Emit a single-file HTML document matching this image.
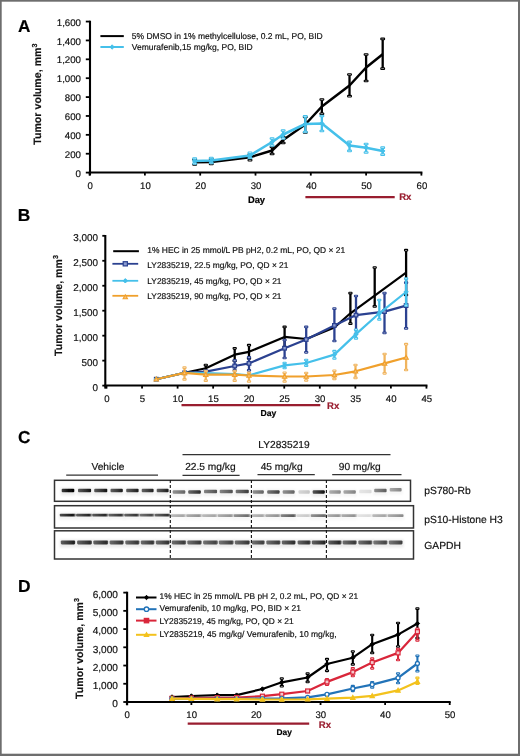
<!DOCTYPE html>
<html><head><meta charset="utf-8"><style>
html,body{margin:0;padding:0;background:#fff;}
svg{display:block;will-change:transform;}
text{font-family:"Liberation Sans", sans-serif;text-rendering:geometricPrecision;stroke:currentColor;stroke-width:0.18px;}
</style></head><body>
<svg width="520" height="756" viewBox="0 0 520 756">
<defs><filter id="blur" x="-20%" y="-100%" width="140%" height="300%"><feGaussianBlur stdDeviation="0.7"/></filter><filter id="blur2" x="-20%" y="-100%" width="140%" height="300%"><feGaussianBlur stdDeviation="1.2"/></filter></defs>
<rect x="0" y="0" width="520" height="756" fill="#fff"/>
<text x="17.90" y="31.90" font-size="17.2" text-anchor="start" font-weight="bold" fill="#000" style="color:#000" >A</text>
<line x1="90.00" y1="20.70" x2="90.00" y2="175.40" stroke="#000" stroke-width="2.1" />
<line x1="88.80" y1="172.60" x2="422.40" y2="172.60" stroke="#000" stroke-width="2" />
<line x1="85.80" y1="172.60" x2="89.80" y2="172.60" stroke="#000" stroke-width="1.8" />
<text x="81.00" y="176.70" font-size="9.7" text-anchor="end" font-weight="normal" fill="#111" style="color:#111" >0</text>
<line x1="85.80" y1="153.72" x2="89.80" y2="153.72" stroke="#000" stroke-width="1.8" />
<text x="81.00" y="157.82" font-size="9.7" text-anchor="end" font-weight="normal" fill="#111" style="color:#111" >200</text>
<line x1="85.80" y1="134.84" x2="89.80" y2="134.84" stroke="#000" stroke-width="1.8" />
<text x="81.00" y="138.94" font-size="9.7" text-anchor="end" font-weight="normal" fill="#111" style="color:#111" >400</text>
<line x1="85.80" y1="115.96" x2="89.80" y2="115.96" stroke="#000" stroke-width="1.8" />
<text x="81.00" y="120.06" font-size="9.7" text-anchor="end" font-weight="normal" fill="#111" style="color:#111" >600</text>
<line x1="85.80" y1="97.08" x2="89.80" y2="97.08" stroke="#000" stroke-width="1.8" />
<text x="81.00" y="101.18" font-size="9.7" text-anchor="end" font-weight="normal" fill="#111" style="color:#111" >800</text>
<line x1="85.80" y1="78.20" x2="89.80" y2="78.20" stroke="#000" stroke-width="1.8" />
<text x="81.00" y="82.30" font-size="9.7" text-anchor="end" font-weight="normal" fill="#111" style="color:#111" >1,000</text>
<line x1="85.80" y1="59.32" x2="89.80" y2="59.32" stroke="#000" stroke-width="1.8" />
<text x="81.00" y="63.42" font-size="9.7" text-anchor="end" font-weight="normal" fill="#111" style="color:#111" >1,200</text>
<line x1="85.80" y1="40.44" x2="89.80" y2="40.44" stroke="#000" stroke-width="1.8" />
<text x="81.00" y="44.54" font-size="9.7" text-anchor="end" font-weight="normal" fill="#111" style="color:#111" >1,400</text>
<line x1="85.80" y1="21.56" x2="89.80" y2="21.56" stroke="#000" stroke-width="1.8" />
<text x="81.00" y="25.66" font-size="9.7" text-anchor="end" font-weight="normal" fill="#111" style="color:#111" >1,600</text>
<line x1="89.60" y1="172.60" x2="89.60" y2="175.60" stroke="#000" stroke-width="1.8" />
<text x="90.10" y="189.20" font-size="9.6" text-anchor="middle" font-weight="normal" fill="#111" style="color:#111" >0</text>
<line x1="144.90" y1="172.60" x2="144.90" y2="175.60" stroke="#000" stroke-width="1.8" />
<text x="145.40" y="189.20" font-size="9.6" text-anchor="middle" font-weight="normal" fill="#111" style="color:#111" >10</text>
<line x1="200.20" y1="172.60" x2="200.20" y2="175.60" stroke="#000" stroke-width="1.8" />
<text x="200.70" y="189.20" font-size="9.6" text-anchor="middle" font-weight="normal" fill="#111" style="color:#111" >20</text>
<line x1="255.50" y1="172.60" x2="255.50" y2="175.60" stroke="#000" stroke-width="1.8" />
<text x="256.00" y="189.20" font-size="9.6" text-anchor="middle" font-weight="normal" fill="#111" style="color:#111" >30</text>
<line x1="310.80" y1="172.60" x2="310.80" y2="175.60" stroke="#000" stroke-width="1.8" />
<text x="311.30" y="189.20" font-size="9.6" text-anchor="middle" font-weight="normal" fill="#111" style="color:#111" >40</text>
<line x1="366.10" y1="172.60" x2="366.10" y2="175.60" stroke="#000" stroke-width="1.8" />
<text x="366.60" y="189.20" font-size="9.6" text-anchor="middle" font-weight="normal" fill="#111" style="color:#111" >50</text>
<line x1="421.40" y1="172.60" x2="421.40" y2="175.60" stroke="#000" stroke-width="1.8" />
<text x="421.90" y="189.20" font-size="9.6" text-anchor="middle" font-weight="normal" fill="#111" style="color:#111" >60</text>
<text x="256.50" y="203.00" font-size="9.4" text-anchor="middle" font-weight="bold" fill="#000" style="color:#000" >Day</text>
<line x1="305.40" y1="197.10" x2="394.70" y2="197.10" stroke="#991d2f" stroke-width="2.2" />
<text x="399.20" y="200.20" font-size="9.6" text-anchor="start" font-weight="bold" fill="#991d2f" style="color:#991d2f" >Rx</text>
<text transform="translate(41.30,144.80) rotate(-90)" font-size="10.65" font-weight="bold" fill="#111" style="color:#111">Tumor volume, mm<tspan font-size="7.24" dy="-4.05">3</tspan></text>
<line x1="100.40" y1="36.10" x2="123.80" y2="36.10" stroke="#000" stroke-width="2" />
<text x="131.80" y="38.60" font-size="8.5" text-anchor="start" font-weight="normal" fill="#111" style="color:#111" >5% DMSO in 1% methylcellulose, 0.2 mL, PO, BID</text>
<line x1="100.40" y1="47.00" x2="123.80" y2="47.00" stroke="#45c0ea" stroke-width="2" />
<path d="M109.90,47.00 L112.10,44.80 L114.30,47.00 L112.10,49.20Z" fill="#45c0ea" stroke="#45c0ea" stroke-width="1"/>
<text x="131.80" y="49.60" font-size="8.5" text-anchor="start" font-weight="normal" fill="#111" style="color:#111" >Vemurafenib,15 mg/kg, PO, BID</text>
<line x1="194.67" y1="159.50" x2="194.67" y2="164.50" stroke="#000" stroke-width="2.3" />
<rect x="192.77" y="158.70" width="3.8" height="1.6" rx="0.5" fill="#fff" stroke="#000" stroke-width="1.1"/>
<rect x="192.77" y="163.70" width="3.8" height="1.6" rx="0.5" fill="#fff" stroke="#000" stroke-width="1.1"/>
<line x1="211.26" y1="159.20" x2="211.26" y2="164.00" stroke="#000" stroke-width="2.3" />
<rect x="209.36" y="158.40" width="3.8" height="1.6" rx="0.5" fill="#fff" stroke="#000" stroke-width="1.1"/>
<rect x="209.36" y="163.20" width="3.8" height="1.6" rx="0.5" fill="#fff" stroke="#000" stroke-width="1.1"/>
<line x1="249.97" y1="154.50" x2="249.97" y2="160.20" stroke="#000" stroke-width="2.3" />
<rect x="248.07" y="153.70" width="3.8" height="1.6" rx="0.5" fill="#fff" stroke="#000" stroke-width="1.1"/>
<rect x="248.07" y="159.40" width="3.8" height="1.6" rx="0.5" fill="#fff" stroke="#000" stroke-width="1.1"/>
<line x1="272.09" y1="147.00" x2="272.09" y2="154.00" stroke="#000" stroke-width="2.3" />
<rect x="270.19" y="146.20" width="3.8" height="1.6" rx="0.5" fill="#fff" stroke="#000" stroke-width="1.1"/>
<rect x="270.19" y="153.20" width="3.8" height="1.6" rx="0.5" fill="#fff" stroke="#000" stroke-width="1.1"/>
<line x1="283.15" y1="137.00" x2="283.15" y2="143.00" stroke="#000" stroke-width="2.3" />
<rect x="281.25" y="136.20" width="3.8" height="1.6" rx="0.5" fill="#fff" stroke="#000" stroke-width="1.1"/>
<rect x="281.25" y="142.20" width="3.8" height="1.6" rx="0.5" fill="#fff" stroke="#000" stroke-width="1.1"/>
<line x1="305.27" y1="117.00" x2="305.27" y2="132.50" stroke="#000" stroke-width="2.3" />
<rect x="303.37" y="116.20" width="3.8" height="1.6" rx="0.5" fill="#fff" stroke="#000" stroke-width="1.1"/>
<rect x="303.37" y="131.70" width="3.8" height="1.6" rx="0.5" fill="#fff" stroke="#000" stroke-width="1.1"/>
<line x1="321.86" y1="99.50" x2="321.86" y2="113.80" stroke="#000" stroke-width="2.3" />
<rect x="319.96" y="98.70" width="3.8" height="1.6" rx="0.5" fill="#fff" stroke="#000" stroke-width="1.1"/>
<rect x="319.96" y="113.00" width="3.8" height="1.6" rx="0.5" fill="#fff" stroke="#000" stroke-width="1.1"/>
<line x1="349.51" y1="74.50" x2="349.51" y2="96.20" stroke="#000" stroke-width="2.3" />
<rect x="347.61" y="73.70" width="3.8" height="1.6" rx="0.5" fill="#fff" stroke="#000" stroke-width="1.1"/>
<rect x="347.61" y="95.40" width="3.8" height="1.6" rx="0.5" fill="#fff" stroke="#000" stroke-width="1.1"/>
<line x1="366.10" y1="54.50" x2="366.10" y2="81.00" stroke="#000" stroke-width="2.3" />
<rect x="364.20" y="53.70" width="3.8" height="1.6" rx="0.5" fill="#fff" stroke="#000" stroke-width="1.1"/>
<rect x="364.20" y="80.20" width="3.8" height="1.6" rx="0.5" fill="#fff" stroke="#000" stroke-width="1.1"/>
<line x1="382.69" y1="38.90" x2="382.69" y2="68.70" stroke="#000" stroke-width="2.3" />
<rect x="380.79" y="38.10" width="3.8" height="1.6" rx="0.5" fill="#fff" stroke="#000" stroke-width="1.1"/>
<rect x="380.79" y="67.90" width="3.8" height="1.6" rx="0.5" fill="#fff" stroke="#000" stroke-width="1.1"/>
<polyline points="194.67,162.30 211.26,161.90 249.97,157.30 272.09,150.50 283.15,140.00 305.27,124.50 321.86,106.50 349.51,85.50 366.10,67.50 382.69,54.20" fill="none" stroke="#000" stroke-width="2.5" stroke-linejoin="round"/>
<line x1="194.67" y1="158.50" x2="194.67" y2="163.50" stroke="#45c0ea" stroke-width="2.3" />
<rect x="192.77" y="157.70" width="3.8" height="1.6" rx="0.5" fill="#fff" stroke="#45c0ea" stroke-width="1.1"/>
<rect x="192.77" y="162.70" width="3.8" height="1.6" rx="0.5" fill="#fff" stroke="#45c0ea" stroke-width="1.1"/>
<line x1="211.26" y1="158.00" x2="211.26" y2="163.00" stroke="#45c0ea" stroke-width="2.3" />
<rect x="209.36" y="157.20" width="3.8" height="1.6" rx="0.5" fill="#fff" stroke="#45c0ea" stroke-width="1.1"/>
<rect x="209.36" y="162.20" width="3.8" height="1.6" rx="0.5" fill="#fff" stroke="#45c0ea" stroke-width="1.1"/>
<line x1="249.97" y1="152.80" x2="249.97" y2="158.00" stroke="#45c0ea" stroke-width="2.3" />
<rect x="248.07" y="152.00" width="3.8" height="1.6" rx="0.5" fill="#fff" stroke="#45c0ea" stroke-width="1.1"/>
<rect x="248.07" y="157.20" width="3.8" height="1.6" rx="0.5" fill="#fff" stroke="#45c0ea" stroke-width="1.1"/>
<line x1="272.09" y1="138.50" x2="272.09" y2="145.50" stroke="#45c0ea" stroke-width="2.3" />
<rect x="270.19" y="137.70" width="3.8" height="1.6" rx="0.5" fill="#fff" stroke="#45c0ea" stroke-width="1.1"/>
<rect x="270.19" y="144.70" width="3.8" height="1.6" rx="0.5" fill="#fff" stroke="#45c0ea" stroke-width="1.1"/>
<line x1="283.15" y1="130.50" x2="283.15" y2="138.50" stroke="#45c0ea" stroke-width="2.3" />
<rect x="281.25" y="129.70" width="3.8" height="1.6" rx="0.5" fill="#fff" stroke="#45c0ea" stroke-width="1.1"/>
<rect x="281.25" y="137.70" width="3.8" height="1.6" rx="0.5" fill="#fff" stroke="#45c0ea" stroke-width="1.1"/>
<line x1="305.27" y1="116.30" x2="305.27" y2="132.00" stroke="#45c0ea" stroke-width="2.3" />
<rect x="303.37" y="115.50" width="3.8" height="1.6" rx="0.5" fill="#fff" stroke="#45c0ea" stroke-width="1.1"/>
<rect x="303.37" y="131.20" width="3.8" height="1.6" rx="0.5" fill="#fff" stroke="#45c0ea" stroke-width="1.1"/>
<line x1="321.86" y1="116.00" x2="321.86" y2="131.00" stroke="#45c0ea" stroke-width="2.3" />
<rect x="319.96" y="115.20" width="3.8" height="1.6" rx="0.5" fill="#fff" stroke="#45c0ea" stroke-width="1.1"/>
<rect x="319.96" y="130.20" width="3.8" height="1.6" rx="0.5" fill="#fff" stroke="#45c0ea" stroke-width="1.1"/>
<line x1="349.51" y1="141.90" x2="349.51" y2="150.90" stroke="#45c0ea" stroke-width="2.3" />
<rect x="347.61" y="141.10" width="3.8" height="1.6" rx="0.5" fill="#fff" stroke="#45c0ea" stroke-width="1.1"/>
<rect x="347.61" y="150.10" width="3.8" height="1.6" rx="0.5" fill="#fff" stroke="#45c0ea" stroke-width="1.1"/>
<line x1="366.10" y1="144.00" x2="366.10" y2="152.50" stroke="#45c0ea" stroke-width="2.3" />
<rect x="364.20" y="143.20" width="3.8" height="1.6" rx="0.5" fill="#fff" stroke="#45c0ea" stroke-width="1.1"/>
<rect x="364.20" y="151.70" width="3.8" height="1.6" rx="0.5" fill="#fff" stroke="#45c0ea" stroke-width="1.1"/>
<line x1="382.69" y1="147.70" x2="382.69" y2="154.60" stroke="#45c0ea" stroke-width="2.3" />
<rect x="380.79" y="146.90" width="3.8" height="1.6" rx="0.5" fill="#fff" stroke="#45c0ea" stroke-width="1.1"/>
<rect x="380.79" y="153.80" width="3.8" height="1.6" rx="0.5" fill="#fff" stroke="#45c0ea" stroke-width="1.1"/>
<polyline points="194.67,161.00 211.26,160.60 249.97,155.50 272.09,142.00 283.15,134.50 305.27,124.00 321.86,123.50 349.51,145.60 366.10,147.70 382.69,150.90" fill="none" stroke="#45c0ea" stroke-width="2.5" stroke-linejoin="round"/>
<path d="M192.47,161.00 L194.67,158.80 L196.87,161.00 L194.67,163.20Z" fill="#45c0ea" stroke="#45c0ea" stroke-width="1"/>
<path d="M209.06,160.60 L211.26,158.40 L213.46,160.60 L211.26,162.80Z" fill="#45c0ea" stroke="#45c0ea" stroke-width="1"/>
<path d="M247.77,155.50 L249.97,153.30 L252.17,155.50 L249.97,157.70Z" fill="#45c0ea" stroke="#45c0ea" stroke-width="1"/>
<path d="M269.89,142.00 L272.09,139.80 L274.29,142.00 L272.09,144.20Z" fill="#45c0ea" stroke="#45c0ea" stroke-width="1"/>
<path d="M280.95,134.50 L283.15,132.30 L285.35,134.50 L283.15,136.70Z" fill="#45c0ea" stroke="#45c0ea" stroke-width="1"/>
<path d="M303.07,124.00 L305.27,121.80 L307.47,124.00 L305.27,126.20Z" fill="#45c0ea" stroke="#45c0ea" stroke-width="1"/>
<path d="M319.66,123.50 L321.86,121.30 L324.06,123.50 L321.86,125.70Z" fill="#45c0ea" stroke="#45c0ea" stroke-width="1"/>
<path d="M347.31,145.60 L349.51,143.40 L351.71,145.60 L349.51,147.80Z" fill="#45c0ea" stroke="#45c0ea" stroke-width="1"/>
<path d="M363.90,147.70 L366.10,145.50 L368.30,147.70 L366.10,149.90Z" fill="#45c0ea" stroke="#45c0ea" stroke-width="1"/>
<path d="M380.49,150.90 L382.69,148.70 L384.89,150.90 L382.69,153.10Z" fill="#45c0ea" stroke="#45c0ea" stroke-width="1"/>
<text x="17.80" y="220.80" font-size="17.4" text-anchor="start" font-weight="bold" fill="#000" style="color:#000" >B</text>
<line x1="105.30" y1="235.00" x2="105.30" y2="388.60" stroke="#000" stroke-width="2.1" />
<line x1="104.30" y1="385.60" x2="427.45" y2="385.60" stroke="#000" stroke-width="2" />
<line x1="102.30" y1="385.60" x2="105.30" y2="385.60" stroke="#000" stroke-width="1.8" />
<text x="98.00" y="390.80" font-size="9.9" text-anchor="end" font-weight="normal" fill="#111" style="color:#111" >0</text>
<line x1="102.30" y1="360.64" x2="105.30" y2="360.64" stroke="#000" stroke-width="1.8" />
<text x="98.00" y="365.84" font-size="9.9" text-anchor="end" font-weight="normal" fill="#111" style="color:#111" >500</text>
<line x1="102.30" y1="335.67" x2="105.30" y2="335.67" stroke="#000" stroke-width="1.8" />
<text x="98.00" y="340.87" font-size="9.9" text-anchor="end" font-weight="normal" fill="#111" style="color:#111" >1,000</text>
<line x1="102.30" y1="310.71" x2="105.30" y2="310.71" stroke="#000" stroke-width="1.8" />
<text x="98.00" y="315.91" font-size="9.9" text-anchor="end" font-weight="normal" fill="#111" style="color:#111" >1,500</text>
<line x1="102.30" y1="285.74" x2="105.30" y2="285.74" stroke="#000" stroke-width="1.8" />
<text x="98.00" y="290.94" font-size="9.9" text-anchor="end" font-weight="normal" fill="#111" style="color:#111" >2,000</text>
<line x1="102.30" y1="260.78" x2="105.30" y2="260.78" stroke="#000" stroke-width="1.8" />
<text x="98.00" y="265.98" font-size="9.9" text-anchor="end" font-weight="normal" fill="#111" style="color:#111" >2,500</text>
<line x1="102.30" y1="235.81" x2="105.30" y2="235.81" stroke="#000" stroke-width="1.8" />
<text x="98.00" y="241.01" font-size="9.9" text-anchor="end" font-weight="normal" fill="#111" style="color:#111" >3,000</text>
<line x1="106.50" y1="385.60" x2="106.50" y2="388.60" stroke="#000" stroke-width="1.8" />
<text x="106.80" y="402.00" font-size="9.6" text-anchor="middle" font-weight="normal" fill="#111" style="color:#111" >0</text>
<line x1="142.05" y1="385.60" x2="142.05" y2="388.60" stroke="#000" stroke-width="1.8" />
<text x="142.35" y="402.00" font-size="9.6" text-anchor="middle" font-weight="normal" fill="#111" style="color:#111" >5</text>
<line x1="177.60" y1="385.60" x2="177.60" y2="388.60" stroke="#000" stroke-width="1.8" />
<text x="177.90" y="402.00" font-size="9.6" text-anchor="middle" font-weight="normal" fill="#111" style="color:#111" >10</text>
<line x1="213.15" y1="385.60" x2="213.15" y2="388.60" stroke="#000" stroke-width="1.8" />
<text x="213.45" y="402.00" font-size="9.6" text-anchor="middle" font-weight="normal" fill="#111" style="color:#111" >15</text>
<line x1="248.70" y1="385.60" x2="248.70" y2="388.60" stroke="#000" stroke-width="1.8" />
<text x="249.00" y="402.00" font-size="9.6" text-anchor="middle" font-weight="normal" fill="#111" style="color:#111" >20</text>
<line x1="284.25" y1="385.60" x2="284.25" y2="388.60" stroke="#000" stroke-width="1.8" />
<text x="284.55" y="402.00" font-size="9.6" text-anchor="middle" font-weight="normal" fill="#111" style="color:#111" >25</text>
<line x1="319.80" y1="385.60" x2="319.80" y2="388.60" stroke="#000" stroke-width="1.8" />
<text x="320.10" y="402.00" font-size="9.6" text-anchor="middle" font-weight="normal" fill="#111" style="color:#111" >30</text>
<line x1="355.35" y1="385.60" x2="355.35" y2="388.60" stroke="#000" stroke-width="1.8" />
<text x="355.65" y="402.00" font-size="9.6" text-anchor="middle" font-weight="normal" fill="#111" style="color:#111" >35</text>
<line x1="390.90" y1="385.60" x2="390.90" y2="388.60" stroke="#000" stroke-width="1.8" />
<text x="391.20" y="402.00" font-size="9.6" text-anchor="middle" font-weight="normal" fill="#111" style="color:#111" >40</text>
<line x1="426.45" y1="385.60" x2="426.45" y2="388.60" stroke="#000" stroke-width="1.8" />
<text x="426.75" y="402.00" font-size="9.6" text-anchor="middle" font-weight="normal" fill="#111" style="color:#111" >45</text>
<text x="268.50" y="415.80" font-size="8.6" text-anchor="middle" font-weight="bold" fill="#000" style="color:#000" >Day</text>
<line x1="181.50" y1="405.10" x2="320.30" y2="405.10" stroke="#991d2f" stroke-width="2.2" />
<text x="327.00" y="409.20" font-size="9.6" text-anchor="start" font-weight="bold" fill="#991d2f" style="color:#991d2f" >Rx</text>
<text transform="translate(62.00,356.00) rotate(-90)" font-size="10.6" font-weight="bold" fill="#111" style="color:#111">Tumor volume, mm<tspan font-size="7.21" dy="-4.03">3</tspan></text>
<line x1="113.20" y1="251.20" x2="138.90" y2="251.20" stroke="#000" stroke-width="2" />
<text x="147.30" y="253.30" font-size="8.45" text-anchor="start" font-weight="normal" fill="#111" style="color:#111" >1% HEC in 25 mmol/L PB pH2, 0.2 mL, PO, QD × 21</text>
<line x1="112.40" y1="263.80" x2="138.20" y2="263.80" stroke="#2b4190" stroke-width="1.8" />
<rect x="123.20" y="261.70" width="4.20" height="4.20" fill="#8d9dd0" stroke="#2b4190" stroke-width="1.2"/>
<text x="147.30" y="268.40" font-size="8.4" text-anchor="start" font-weight="normal" fill="#111" style="color:#111" >LY2835219, 22.5 mg/kg, PO, QD × 21</text>
<line x1="112.40" y1="280.80" x2="138.20" y2="280.80" stroke="#45c0ea" stroke-width="1.8" />
<path d="M123.10,280.80 L125.30,278.60 L127.50,280.80 L125.30,283.00Z" fill="#45c0ea" stroke="#45c0ea" stroke-width="1"/>
<text x="147.30" y="283.70" font-size="8.4" text-anchor="start" font-weight="normal" fill="#111" style="color:#111" >LY2835219, 45 mg/kg, PO, QD × 21</text>
<line x1="112.40" y1="295.80" x2="138.20" y2="295.80" stroke="#f0a02c" stroke-width="1.8" />
<path d="M123.10,298.76 L125.30,294.80 L127.50,298.76Z" fill="#f7c27a" stroke="#f0a02c" stroke-width="1.1"/>
<text x="147.30" y="298.90" font-size="8.4" text-anchor="start" font-weight="normal" fill="#111" style="color:#111" >LY2835219, 90 mg/kg, PO, QD × 21</text>
<line x1="205.80" y1="365.10" x2="205.80" y2="371.50" stroke="#000" stroke-width="2.3" />
<rect x="204.20" y="364.30" width="3.2" height="1.6" rx="0.5" fill="#fff" stroke="#000" stroke-width="1.1"/>
<rect x="204.20" y="370.70" width="3.2" height="1.6" rx="0.5" fill="#fff" stroke="#000" stroke-width="1.1"/>
<line x1="234.70" y1="348.30" x2="234.70" y2="361.00" stroke="#000" stroke-width="2.3" />
<rect x="233.10" y="347.50" width="3.2" height="1.6" rx="0.5" fill="#fff" stroke="#000" stroke-width="1.1"/>
<rect x="233.10" y="360.20" width="3.2" height="1.6" rx="0.5" fill="#fff" stroke="#000" stroke-width="1.1"/>
<line x1="249.00" y1="345.20" x2="249.00" y2="358.40" stroke="#000" stroke-width="2.3" />
<rect x="247.40" y="344.40" width="3.2" height="1.6" rx="0.5" fill="#fff" stroke="#000" stroke-width="1.1"/>
<rect x="247.40" y="357.60" width="3.2" height="1.6" rx="0.5" fill="#fff" stroke="#000" stroke-width="1.1"/>
<line x1="284.60" y1="326.90" x2="284.60" y2="347.00" stroke="#000" stroke-width="2.3" />
<rect x="283.00" y="326.10" width="3.2" height="1.6" rx="0.5" fill="#fff" stroke="#000" stroke-width="1.1"/>
<rect x="283.00" y="346.20" width="3.2" height="1.6" rx="0.5" fill="#fff" stroke="#000" stroke-width="1.1"/>
<line x1="350.40" y1="293.10" x2="350.40" y2="323.70" stroke="#000" stroke-width="2.3" />
<rect x="348.80" y="292.30" width="3.2" height="1.6" rx="0.5" fill="#fff" stroke="#000" stroke-width="1.1"/>
<rect x="348.80" y="322.90" width="3.2" height="1.6" rx="0.5" fill="#fff" stroke="#000" stroke-width="1.1"/>
<line x1="374.70" y1="267.50" x2="374.70" y2="306.40" stroke="#000" stroke-width="2.3" />
<rect x="373.10" y="266.70" width="3.2" height="1.6" rx="0.5" fill="#fff" stroke="#000" stroke-width="1.1"/>
<rect x="373.10" y="305.60" width="3.2" height="1.6" rx="0.5" fill="#fff" stroke="#000" stroke-width="1.1"/>
<line x1="406.10" y1="250.20" x2="406.10" y2="295.00" stroke="#000" stroke-width="2.3" />
<rect x="404.50" y="249.40" width="3.2" height="1.6" rx="0.5" fill="#fff" stroke="#000" stroke-width="1.1"/>
<rect x="404.50" y="294.20" width="3.2" height="1.6" rx="0.5" fill="#fff" stroke="#000" stroke-width="1.1"/>
<polyline points="156.27,379.20 184.71,372.80 205.80,368.20 234.70,354.70 249.00,351.80 284.60,336.90 306.20,339.00 334.40,327.50 350.40,313.30 374.70,295.60 406.10,272.70" fill="none" stroke="#000" stroke-width="2.2" stroke-linejoin="round"/>
<line x1="234.70" y1="360.40" x2="234.70" y2="370.30" stroke="#2b4190" stroke-width="2.3" />
<rect x="233.10" y="359.60" width="3.2" height="1.6" rx="0.5" fill="#fff" stroke="#2b4190" stroke-width="1.1"/>
<rect x="233.10" y="369.50" width="3.2" height="1.6" rx="0.5" fill="#fff" stroke="#2b4190" stroke-width="1.1"/>
<line x1="249.00" y1="357.30" x2="249.00" y2="370.30" stroke="#2b4190" stroke-width="2.3" />
<rect x="247.40" y="356.50" width="3.2" height="1.6" rx="0.5" fill="#fff" stroke="#2b4190" stroke-width="1.1"/>
<rect x="247.40" y="369.50" width="3.2" height="1.6" rx="0.5" fill="#fff" stroke="#2b4190" stroke-width="1.1"/>
<line x1="284.60" y1="340.00" x2="284.60" y2="358.00" stroke="#2b4190" stroke-width="2.3" />
<rect x="283.00" y="339.20" width="3.2" height="1.6" rx="0.5" fill="#fff" stroke="#2b4190" stroke-width="1.1"/>
<rect x="283.00" y="357.20" width="3.2" height="1.6" rx="0.5" fill="#fff" stroke="#2b4190" stroke-width="1.1"/>
<line x1="306.20" y1="326.90" x2="306.20" y2="352.30" stroke="#2b4190" stroke-width="2.3" />
<rect x="304.60" y="326.10" width="3.2" height="1.6" rx="0.5" fill="#fff" stroke="#2b4190" stroke-width="1.1"/>
<rect x="304.60" y="351.50" width="3.2" height="1.6" rx="0.5" fill="#fff" stroke="#2b4190" stroke-width="1.1"/>
<line x1="334.40" y1="308.70" x2="334.40" y2="341.00" stroke="#2b4190" stroke-width="2.3" />
<rect x="332.80" y="307.90" width="3.2" height="1.6" rx="0.5" fill="#fff" stroke="#2b4190" stroke-width="1.1"/>
<rect x="332.80" y="340.20" width="3.2" height="1.6" rx="0.5" fill="#fff" stroke="#2b4190" stroke-width="1.1"/>
<line x1="356.00" y1="296.00" x2="356.00" y2="334.00" stroke="#2b4190" stroke-width="2.3" />
<rect x="354.40" y="295.20" width="3.2" height="1.6" rx="0.5" fill="#fff" stroke="#2b4190" stroke-width="1.1"/>
<rect x="354.40" y="333.20" width="3.2" height="1.6" rx="0.5" fill="#fff" stroke="#2b4190" stroke-width="1.1"/>
<line x1="384.50" y1="293.10" x2="384.50" y2="332.90" stroke="#2b4190" stroke-width="2.3" />
<rect x="382.90" y="292.30" width="3.2" height="1.6" rx="0.5" fill="#fff" stroke="#2b4190" stroke-width="1.1"/>
<rect x="382.90" y="332.10" width="3.2" height="1.6" rx="0.5" fill="#fff" stroke="#2b4190" stroke-width="1.1"/>
<line x1="406.10" y1="282.70" x2="406.10" y2="328.40" stroke="#2b4190" stroke-width="2.3" />
<rect x="404.50" y="281.90" width="3.2" height="1.6" rx="0.5" fill="#fff" stroke="#2b4190" stroke-width="1.1"/>
<rect x="404.50" y="327.60" width="3.2" height="1.6" rx="0.5" fill="#fff" stroke="#2b4190" stroke-width="1.1"/>
<polyline points="156.27,379.20 184.71,372.80 205.80,371.70 234.70,366.00 249.00,363.40 284.60,348.20 306.20,339.50 334.40,325.40 356.00,315.10 384.50,311.60 406.10,305.60" fill="none" stroke="#2b4190" stroke-width="2.2" stroke-linejoin="round"/>
<rect x="154.47" y="377.40" width="3.60" height="3.60" fill="#8d9dd0" stroke="#2b4190" stroke-width="1.2"/>
<rect x="182.91" y="371.00" width="3.60" height="3.60" fill="#8d9dd0" stroke="#2b4190" stroke-width="1.2"/>
<rect x="204.00" y="369.90" width="3.60" height="3.60" fill="#8d9dd0" stroke="#2b4190" stroke-width="1.2"/>
<rect x="232.90" y="364.20" width="3.60" height="3.60" fill="#8d9dd0" stroke="#2b4190" stroke-width="1.2"/>
<rect x="247.20" y="361.60" width="3.60" height="3.60" fill="#8d9dd0" stroke="#2b4190" stroke-width="1.2"/>
<rect x="282.80" y="346.40" width="3.60" height="3.60" fill="#8d9dd0" stroke="#2b4190" stroke-width="1.2"/>
<rect x="304.40" y="337.70" width="3.60" height="3.60" fill="#8d9dd0" stroke="#2b4190" stroke-width="1.2"/>
<rect x="332.60" y="323.60" width="3.60" height="3.60" fill="#8d9dd0" stroke="#2b4190" stroke-width="1.2"/>
<rect x="354.20" y="313.30" width="3.60" height="3.60" fill="#8d9dd0" stroke="#2b4190" stroke-width="1.2"/>
<rect x="382.70" y="309.80" width="3.60" height="3.60" fill="#8d9dd0" stroke="#2b4190" stroke-width="1.2"/>
<rect x="404.30" y="303.80" width="3.60" height="3.60" fill="#8d9dd0" stroke="#2b4190" stroke-width="1.2"/>
<line x1="284.60" y1="363.00" x2="284.60" y2="368.00" stroke="#45c0ea" stroke-width="2.3" />
<rect x="283.00" y="362.20" width="3.2" height="1.6" rx="0.5" fill="#fff" stroke="#45c0ea" stroke-width="1.1"/>
<rect x="283.00" y="367.20" width="3.2" height="1.6" rx="0.5" fill="#fff" stroke="#45c0ea" stroke-width="1.1"/>
<line x1="306.20" y1="360.00" x2="306.20" y2="365.70" stroke="#45c0ea" stroke-width="2.3" />
<rect x="304.60" y="359.20" width="3.2" height="1.6" rx="0.5" fill="#fff" stroke="#45c0ea" stroke-width="1.1"/>
<rect x="304.60" y="364.90" width="3.2" height="1.6" rx="0.5" fill="#fff" stroke="#45c0ea" stroke-width="1.1"/>
<line x1="334.40" y1="351.20" x2="334.40" y2="358.50" stroke="#45c0ea" stroke-width="2.3" />
<rect x="332.80" y="350.40" width="3.2" height="1.6" rx="0.5" fill="#fff" stroke="#45c0ea" stroke-width="1.1"/>
<rect x="332.80" y="357.70" width="3.2" height="1.6" rx="0.5" fill="#fff" stroke="#45c0ea" stroke-width="1.1"/>
<line x1="356.00" y1="329.80" x2="356.00" y2="338.40" stroke="#45c0ea" stroke-width="2.3" />
<rect x="354.40" y="329.00" width="3.2" height="1.6" rx="0.5" fill="#fff" stroke="#45c0ea" stroke-width="1.1"/>
<rect x="354.40" y="337.60" width="3.2" height="1.6" rx="0.5" fill="#fff" stroke="#45c0ea" stroke-width="1.1"/>
<line x1="379.30" y1="300.00" x2="379.30" y2="319.40" stroke="#45c0ea" stroke-width="2.3" />
<rect x="377.70" y="299.20" width="3.2" height="1.6" rx="0.5" fill="#fff" stroke="#45c0ea" stroke-width="1.1"/>
<rect x="377.70" y="318.60" width="3.2" height="1.6" rx="0.5" fill="#fff" stroke="#45c0ea" stroke-width="1.1"/>
<line x1="406.10" y1="278.70" x2="406.10" y2="305.50" stroke="#45c0ea" stroke-width="2.3" />
<rect x="404.50" y="277.90" width="3.2" height="1.6" rx="0.5" fill="#fff" stroke="#45c0ea" stroke-width="1.1"/>
<rect x="404.50" y="304.70" width="3.2" height="1.6" rx="0.5" fill="#fff" stroke="#45c0ea" stroke-width="1.1"/>
<polyline points="156.27,379.20 184.71,372.80 205.80,373.00 234.70,374.00 249.00,375.30 284.60,365.40 306.20,363.00 334.40,354.60 356.00,334.10 379.30,313.30 406.10,292.00" fill="none" stroke="#45c0ea" stroke-width="2.2" stroke-linejoin="round"/>
<path d="M154.07,379.20 L156.27,377.00 L158.47,379.20 L156.27,381.40Z" fill="#45c0ea" stroke="#45c0ea" stroke-width="1"/>
<path d="M182.51,372.80 L184.71,370.60 L186.91,372.80 L184.71,375.00Z" fill="#45c0ea" stroke="#45c0ea" stroke-width="1"/>
<path d="M203.60,373.00 L205.80,370.80 L208.00,373.00 L205.80,375.20Z" fill="#45c0ea" stroke="#45c0ea" stroke-width="1"/>
<path d="M232.50,374.00 L234.70,371.80 L236.90,374.00 L234.70,376.20Z" fill="#45c0ea" stroke="#45c0ea" stroke-width="1"/>
<path d="M246.80,375.30 L249.00,373.10 L251.20,375.30 L249.00,377.50Z" fill="#45c0ea" stroke="#45c0ea" stroke-width="1"/>
<path d="M282.40,365.40 L284.60,363.20 L286.80,365.40 L284.60,367.60Z" fill="#45c0ea" stroke="#45c0ea" stroke-width="1"/>
<path d="M304.00,363.00 L306.20,360.80 L308.40,363.00 L306.20,365.20Z" fill="#45c0ea" stroke="#45c0ea" stroke-width="1"/>
<path d="M332.20,354.60 L334.40,352.40 L336.60,354.60 L334.40,356.80Z" fill="#45c0ea" stroke="#45c0ea" stroke-width="1"/>
<path d="M353.80,334.10 L356.00,331.90 L358.20,334.10 L356.00,336.30Z" fill="#45c0ea" stroke="#45c0ea" stroke-width="1"/>
<path d="M377.10,313.30 L379.30,311.10 L381.50,313.30 L379.30,315.50Z" fill="#45c0ea" stroke="#45c0ea" stroke-width="1"/>
<path d="M403.90,292.00 L406.10,289.80 L408.30,292.00 L406.10,294.20Z" fill="#45c0ea" stroke="#45c0ea" stroke-width="1"/>
<line x1="184.50" y1="367.70" x2="184.50" y2="379.40" stroke="#f0b45e" stroke-width="2.3" />
<rect x="182.90" y="366.90" width="3.2" height="1.6" rx="0.5" fill="#fff" stroke="#f0b45e" stroke-width="1.1"/>
<rect x="182.90" y="378.60" width="3.2" height="1.6" rx="0.5" fill="#fff" stroke="#f0b45e" stroke-width="1.1"/>
<line x1="205.80" y1="371.10" x2="205.80" y2="380.70" stroke="#f0b45e" stroke-width="2.3" />
<rect x="204.20" y="370.30" width="3.2" height="1.6" rx="0.5" fill="#fff" stroke="#f0b45e" stroke-width="1.1"/>
<rect x="204.20" y="379.90" width="3.2" height="1.6" rx="0.5" fill="#fff" stroke="#f0b45e" stroke-width="1.1"/>
<line x1="234.70" y1="371.10" x2="234.70" y2="380.70" stroke="#f0b45e" stroke-width="2.3" />
<rect x="233.10" y="370.30" width="3.2" height="1.6" rx="0.5" fill="#fff" stroke="#f0b45e" stroke-width="1.1"/>
<rect x="233.10" y="379.90" width="3.2" height="1.6" rx="0.5" fill="#fff" stroke="#f0b45e" stroke-width="1.1"/>
<line x1="249.00" y1="372.90" x2="249.00" y2="381.50" stroke="#f0b45e" stroke-width="2.3" />
<rect x="247.40" y="372.10" width="3.2" height="1.6" rx="0.5" fill="#fff" stroke="#f0b45e" stroke-width="1.1"/>
<rect x="247.40" y="380.70" width="3.2" height="1.6" rx="0.5" fill="#fff" stroke="#f0b45e" stroke-width="1.1"/>
<line x1="284.60" y1="372.80" x2="284.60" y2="381.50" stroke="#f0b45e" stroke-width="2.3" />
<rect x="283.00" y="372.00" width="3.2" height="1.6" rx="0.5" fill="#fff" stroke="#f0b45e" stroke-width="1.1"/>
<rect x="283.00" y="380.70" width="3.2" height="1.6" rx="0.5" fill="#fff" stroke="#f0b45e" stroke-width="1.1"/>
<line x1="306.20" y1="373.00" x2="306.20" y2="380.50" stroke="#f0b45e" stroke-width="2.3" />
<rect x="304.60" y="372.20" width="3.2" height="1.6" rx="0.5" fill="#fff" stroke="#f0b45e" stroke-width="1.1"/>
<rect x="304.60" y="379.70" width="3.2" height="1.6" rx="0.5" fill="#fff" stroke="#f0b45e" stroke-width="1.1"/>
<line x1="334.40" y1="370.80" x2="334.40" y2="378.90" stroke="#f0b45e" stroke-width="2.3" />
<rect x="332.80" y="370.00" width="3.2" height="1.6" rx="0.5" fill="#fff" stroke="#f0b45e" stroke-width="1.1"/>
<rect x="332.80" y="378.10" width="3.2" height="1.6" rx="0.5" fill="#fff" stroke="#f0b45e" stroke-width="1.1"/>
<line x1="355.50" y1="365.00" x2="355.50" y2="377.90" stroke="#f0b45e" stroke-width="2.3" />
<rect x="353.90" y="364.20" width="3.2" height="1.6" rx="0.5" fill="#fff" stroke="#f0b45e" stroke-width="1.1"/>
<rect x="353.90" y="377.10" width="3.2" height="1.6" rx="0.5" fill="#fff" stroke="#f0b45e" stroke-width="1.1"/>
<line x1="384.60" y1="354.00" x2="384.60" y2="373.30" stroke="#f0b45e" stroke-width="2.3" />
<rect x="383.00" y="353.20" width="3.2" height="1.6" rx="0.5" fill="#fff" stroke="#f0b45e" stroke-width="1.1"/>
<rect x="383.00" y="372.50" width="3.2" height="1.6" rx="0.5" fill="#fff" stroke="#f0b45e" stroke-width="1.1"/>
<line x1="406.10" y1="344.20" x2="406.10" y2="370.00" stroke="#f0b45e" stroke-width="2.3" />
<rect x="404.50" y="343.40" width="3.2" height="1.6" rx="0.5" fill="#fff" stroke="#f0b45e" stroke-width="1.1"/>
<rect x="404.50" y="369.20" width="3.2" height="1.6" rx="0.5" fill="#fff" stroke="#f0b45e" stroke-width="1.1"/>
<polyline points="156.27,379.20 184.50,372.90 205.80,374.60 234.70,374.60 249.00,375.50 284.60,376.50 306.20,376.50 334.40,375.00 355.50,371.30 384.60,363.40 406.10,357.50" fill="none" stroke="#f0a02c" stroke-width="2.2" stroke-linejoin="round"/>
<path d="M154.07,380.96 L156.27,377.00 L158.47,380.96Z" fill="#f7c27a" stroke="#f0a02c" stroke-width="1.1"/>
<path d="M182.30,374.66 L184.50,370.70 L186.70,374.66Z" fill="#f7c27a" stroke="#f0a02c" stroke-width="1.1"/>
<path d="M203.60,376.36 L205.80,372.40 L208.00,376.36Z" fill="#f7c27a" stroke="#f0a02c" stroke-width="1.1"/>
<path d="M232.50,376.36 L234.70,372.40 L236.90,376.36Z" fill="#f7c27a" stroke="#f0a02c" stroke-width="1.1"/>
<path d="M246.80,377.26 L249.00,373.30 L251.20,377.26Z" fill="#f7c27a" stroke="#f0a02c" stroke-width="1.1"/>
<path d="M282.40,378.26 L284.60,374.30 L286.80,378.26Z" fill="#f7c27a" stroke="#f0a02c" stroke-width="1.1"/>
<path d="M304.00,378.26 L306.20,374.30 L308.40,378.26Z" fill="#f7c27a" stroke="#f0a02c" stroke-width="1.1"/>
<path d="M332.20,376.76 L334.40,372.80 L336.60,376.76Z" fill="#f7c27a" stroke="#f0a02c" stroke-width="1.1"/>
<path d="M353.30,373.06 L355.50,369.10 L357.70,373.06Z" fill="#f7c27a" stroke="#f0a02c" stroke-width="1.1"/>
<path d="M382.40,365.16 L384.60,361.20 L386.80,365.16Z" fill="#f7c27a" stroke="#f0a02c" stroke-width="1.1"/>
<path d="M403.90,359.26 L406.10,355.30 L408.30,359.26Z" fill="#f7c27a" stroke="#f0a02c" stroke-width="1.1"/>
<text x="18.00" y="442.90" font-size="17.3" text-anchor="start" font-weight="bold" fill="#000" style="color:#000" >C</text>
<text x="284.00" y="447.80" font-size="10.2" text-anchor="middle" font-weight="normal" fill="#111" style="color:#111" >LY2835219</text>
<line x1="182.50" y1="454.70" x2="390.50" y2="454.70" stroke="#333" stroke-width="1.3" />
<text x="107.90" y="470.10" font-size="10.2" text-anchor="middle" font-weight="normal" fill="#111" style="color:#111" >Vehicle</text>
<line x1="66.20" y1="475.20" x2="158.00" y2="475.20" stroke="#333" stroke-width="1.3" />
<text x="210.40" y="470.40" font-size="10.2" text-anchor="middle" font-weight="normal" fill="#111" style="color:#111" >22.5 mg/kg</text>
<line x1="182.50" y1="475.30" x2="239.60" y2="475.30" stroke="#333" stroke-width="1.3" />
<text x="281.60" y="470.40" font-size="10.2" text-anchor="middle" font-weight="normal" fill="#111" style="color:#111" >45 mg/kg</text>
<line x1="257.50" y1="474.60" x2="314.80" y2="474.60" stroke="#333" stroke-width="1.3" />
<text x="359.80" y="470.20" font-size="10.2" text-anchor="middle" font-weight="normal" fill="#111" style="color:#111" >90 mg/kg</text>
<line x1="332.20" y1="474.60" x2="401.50" y2="474.60" stroke="#333" stroke-width="1.3" />
<rect x="54.5" y="480.3" width="356" height="21" fill="#fff" stroke="#333" stroke-width="1.5"/>
<rect x="54.5" y="505.7" width="359" height="22.3" fill="#fff" stroke="#333" stroke-width="1.5"/>
<rect x="54.5" y="530.8" width="359" height="28.2" fill="#fff" stroke="#333" stroke-width="1.5"/>
<linearGradient id="g312" x1="0" x2="1" y1="0" y2="0"><stop offset="0" stop-color="rgb(61,61,61)"/><stop offset="0.6" stop-color="rgb(12,12,12)"/><stop offset="1" stop-color="rgb(0,0,0)"/></linearGradient>
<rect x="60.70" y="487.85" width="14.60" height="7.5" fill="rgb(235,235,235)" filter="url(#blur2)"/>
<rect x="61.70" y="488.85" width="12.60" height="3.5" rx="1.00" fill="url(#g312)" filter="url(#blur)"/>
<linearGradient id="g315" x1="0" x2="1" y1="0" y2="0"><stop offset="0" stop-color="rgb(77,77,77)"/><stop offset="0.6" stop-color="rgb(33,33,33)"/><stop offset="1" stop-color="rgb(0,0,0)"/></linearGradient>
<rect x="58.80" y="512.70" width="18.40" height="6.8" fill="rgb(241,241,241)" filter="url(#blur2)"/>
<rect x="59.80" y="513.70" width="16.40" height="2.8" rx="0.80" fill="url(#g315)" filter="url(#blur)"/>
<linearGradient id="g318" x1="0" x2="1" y1="0" y2="0"><stop offset="0" stop-color="rgb(95,95,95)"/><stop offset="0.6" stop-color="rgb(56,56,56)"/><stop offset="1" stop-color="rgb(26,26,26)"/></linearGradient>
<rect x="59.80" y="539.40" width="16.40" height="8.0" fill="rgb(234,234,234)" filter="url(#blur2)"/>
<rect x="60.80" y="540.40" width="14.40" height="4.0" rx="1.14" fill="url(#g318)" filter="url(#blur)"/>
<linearGradient id="g321" x1="0" x2="1" y1="0" y2="0"><stop offset="0" stop-color="rgb(91,91,91)"/><stop offset="0.6" stop-color="rgb(50,50,50)"/><stop offset="1" stop-color="rgb(20,20,20)"/></linearGradient>
<rect x="77.00" y="487.85" width="15.10" height="7.5" fill="rgb(238,238,238)" filter="url(#blur2)"/>
<rect x="78.00" y="488.85" width="13.10" height="3.5" rx="1.00" fill="url(#g321)" filter="url(#blur)"/>
<linearGradient id="g324" x1="0" x2="1" y1="0" y2="0"><stop offset="0" stop-color="rgb(91,91,91)"/><stop offset="0.6" stop-color="rgb(50,50,50)"/><stop offset="1" stop-color="rgb(20,20,20)"/></linearGradient>
<rect x="75.10" y="512.70" width="18.90" height="6.8" fill="rgb(242,242,242)" filter="url(#blur2)"/>
<rect x="76.10" y="513.70" width="16.90" height="2.8" rx="0.80" fill="url(#g324)" filter="url(#blur)"/>
<linearGradient id="g327" x1="0" x2="1" y1="0" y2="0"><stop offset="0" stop-color="rgb(101,101,101)"/><stop offset="0.6" stop-color="rgb(63,63,63)"/><stop offset="1" stop-color="rgb(35,35,35)"/></linearGradient>
<rect x="76.10" y="539.40" width="16.90" height="8.0" fill="rgb(234,234,234)" filter="url(#blur2)"/>
<rect x="77.10" y="540.40" width="14.90" height="4.0" rx="1.14" fill="url(#g327)" filter="url(#blur)"/>
<linearGradient id="g330" x1="0" x2="1" y1="0" y2="0"><stop offset="0" stop-color="rgb(91,91,91)"/><stop offset="0.6" stop-color="rgb(50,50,50)"/><stop offset="1" stop-color="rgb(20,20,20)"/></linearGradient>
<rect x="93.20" y="487.85" width="15.10" height="7.5" fill="rgb(238,238,238)" filter="url(#blur2)"/>
<rect x="94.20" y="488.85" width="13.10" height="3.5" rx="1.00" fill="url(#g330)" filter="url(#blur)"/>
<linearGradient id="g333" x1="0" x2="1" y1="0" y2="0"><stop offset="0" stop-color="rgb(91,91,91)"/><stop offset="0.6" stop-color="rgb(50,50,50)"/><stop offset="1" stop-color="rgb(20,20,20)"/></linearGradient>
<rect x="91.30" y="512.70" width="18.90" height="6.8" fill="rgb(242,242,242)" filter="url(#blur2)"/>
<rect x="92.30" y="513.70" width="16.90" height="2.8" rx="0.80" fill="url(#g333)" filter="url(#blur)"/>
<linearGradient id="g336" x1="0" x2="1" y1="0" y2="0"><stop offset="0" stop-color="rgb(101,101,101)"/><stop offset="0.6" stop-color="rgb(63,63,63)"/><stop offset="1" stop-color="rgb(35,35,35)"/></linearGradient>
<rect x="92.30" y="539.40" width="16.90" height="8.0" fill="rgb(234,234,234)" filter="url(#blur2)"/>
<rect x="93.30" y="540.40" width="14.90" height="4.0" rx="1.14" fill="url(#g336)" filter="url(#blur)"/>
<linearGradient id="g339" x1="0" x2="1" y1="0" y2="0"><stop offset="0" stop-color="rgb(95,95,95)"/><stop offset="0.6" stop-color="rgb(56,56,56)"/><stop offset="1" stop-color="rgb(26,26,26)"/></linearGradient>
<rect x="109.50" y="487.85" width="14.30" height="7.5" fill="rgb(239,239,239)" filter="url(#blur2)"/>
<rect x="110.50" y="488.85" width="12.30" height="3.5" rx="1.00" fill="url(#g339)" filter="url(#blur)"/>
<linearGradient id="g342" x1="0" x2="1" y1="0" y2="0"><stop offset="0" stop-color="rgb(101,101,101)"/><stop offset="0.6" stop-color="rgb(63,63,63)"/><stop offset="1" stop-color="rgb(35,35,35)"/></linearGradient>
<rect x="107.60" y="512.70" width="18.10" height="6.8" fill="rgb(243,243,243)" filter="url(#blur2)"/>
<rect x="108.60" y="513.70" width="16.10" height="2.8" rx="0.80" fill="url(#g342)" filter="url(#blur)"/>
<linearGradient id="g345" x1="0" x2="1" y1="0" y2="0"><stop offset="0" stop-color="rgb(108,108,108)"/><stop offset="0.6" stop-color="rgb(71,71,71)"/><stop offset="1" stop-color="rgb(43,43,43)"/></linearGradient>
<rect x="108.60" y="539.40" width="16.10" height="8.0" fill="rgb(234,234,234)" filter="url(#blur2)"/>
<rect x="109.60" y="540.40" width="14.10" height="4.0" rx="1.14" fill="url(#g345)" filter="url(#blur)"/>
<linearGradient id="g348" x1="0" x2="1" y1="0" y2="0"><stop offset="0" stop-color="rgb(95,95,95)"/><stop offset="0.6" stop-color="rgb(56,56,56)"/><stop offset="1" stop-color="rgb(26,26,26)"/></linearGradient>
<rect x="125.20" y="487.85" width="14.40" height="7.5" fill="rgb(239,239,239)" filter="url(#blur2)"/>
<rect x="126.20" y="488.85" width="12.40" height="3.5" rx="1.00" fill="url(#g348)" filter="url(#blur)"/>
<linearGradient id="g351" x1="0" x2="1" y1="0" y2="0"><stop offset="0" stop-color="rgb(101,101,101)"/><stop offset="0.6" stop-color="rgb(63,63,63)"/><stop offset="1" stop-color="rgb(35,35,35)"/></linearGradient>
<rect x="123.30" y="512.70" width="18.20" height="6.8" fill="rgb(243,243,243)" filter="url(#blur2)"/>
<rect x="124.30" y="513.70" width="16.20" height="2.8" rx="0.80" fill="url(#g351)" filter="url(#blur)"/>
<linearGradient id="g354" x1="0" x2="1" y1="0" y2="0"><stop offset="0" stop-color="rgb(108,108,108)"/><stop offset="0.6" stop-color="rgb(71,71,71)"/><stop offset="1" stop-color="rgb(43,43,43)"/></linearGradient>
<rect x="124.30" y="539.40" width="16.20" height="8.0" fill="rgb(234,234,234)" filter="url(#blur2)"/>
<rect x="125.30" y="540.40" width="14.20" height="4.0" rx="1.14" fill="url(#g354)" filter="url(#blur)"/>
<linearGradient id="g357" x1="0" x2="1" y1="0" y2="0"><stop offset="0" stop-color="rgb(99,99,99)"/><stop offset="0.6" stop-color="rgb(61,61,61)"/><stop offset="1" stop-color="rgb(32,32,32)"/></linearGradient>
<rect x="140.70" y="487.85" width="13.90" height="7.5" fill="rgb(239,239,239)" filter="url(#blur2)"/>
<rect x="141.70" y="488.85" width="11.90" height="3.5" rx="1.00" fill="url(#g357)" filter="url(#blur)"/>
<linearGradient id="g360" x1="0" x2="1" y1="0" y2="0"><stop offset="0" stop-color="rgb(116,116,116)"/><stop offset="0.6" stop-color="rgb(81,81,81)"/><stop offset="1" stop-color="rgb(55,55,55)"/></linearGradient>
<rect x="138.80" y="512.70" width="17.70" height="6.8" fill="rgb(244,244,244)" filter="url(#blur2)"/>
<rect x="139.80" y="513.70" width="15.70" height="2.8" rx="0.80" fill="url(#g360)" filter="url(#blur)"/>
<linearGradient id="g363" x1="0" x2="1" y1="0" y2="0"><stop offset="0" stop-color="rgb(108,108,108)"/><stop offset="0.6" stop-color="rgb(71,71,71)"/><stop offset="1" stop-color="rgb(43,43,43)"/></linearGradient>
<rect x="139.80" y="539.40" width="15.70" height="8.0" fill="rgb(234,234,234)" filter="url(#blur2)"/>
<rect x="140.80" y="540.40" width="13.70" height="4.0" rx="1.14" fill="url(#g363)" filter="url(#blur)"/>
<linearGradient id="g366" x1="0" x2="1" y1="0" y2="0"><stop offset="0" stop-color="rgb(95,95,95)"/><stop offset="0.6" stop-color="rgb(56,56,56)"/><stop offset="1" stop-color="rgb(26,26,26)"/></linearGradient>
<rect x="155.70" y="487.85" width="13.90" height="7.5" fill="rgb(239,239,239)" filter="url(#blur2)"/>
<rect x="156.70" y="488.85" width="11.90" height="3.5" rx="1.00" fill="url(#g366)" filter="url(#blur)"/>
<linearGradient id="g369" x1="0" x2="1" y1="0" y2="0"><stop offset="0" stop-color="rgb(104,104,104)"/><stop offset="0.6" stop-color="rgb(66,66,66)"/><stop offset="1" stop-color="rgb(37,37,37)"/></linearGradient>
<rect x="153.80" y="512.70" width="17.70" height="6.8" fill="rgb(243,243,243)" filter="url(#blur2)"/>
<rect x="154.80" y="513.70" width="15.70" height="2.8" rx="0.80" fill="url(#g369)" filter="url(#blur)"/>
<linearGradient id="g372" x1="0" x2="1" y1="0" y2="0"><stop offset="0" stop-color="rgb(108,108,108)"/><stop offset="0.6" stop-color="rgb(71,71,71)"/><stop offset="1" stop-color="rgb(43,43,43)"/></linearGradient>
<rect x="154.80" y="539.40" width="15.70" height="8.0" fill="rgb(234,234,234)" filter="url(#blur2)"/>
<rect x="155.80" y="540.40" width="13.70" height="4.0" rx="1.14" fill="url(#g372)" filter="url(#blur)"/>
<linearGradient id="g375" x1="0" x2="1" y1="0" y2="0"><stop offset="0" stop-color="rgb(146,146,146)"/><stop offset="0.6" stop-color="rgb(119,119,119)"/><stop offset="1" stop-color="rgb(99,99,99)"/></linearGradient>
<rect x="171.70" y="489.25" width="14.60" height="7.5" fill="rgb(244,244,244)" filter="url(#blur2)"/>
<rect x="172.70" y="490.25" width="12.60" height="3.5" rx="1.00" fill="url(#g375)" filter="url(#blur)"/>
<linearGradient id="g378" x1="0" x2="1" y1="0" y2="0"><stop offset="0" stop-color="rgb(187,187,187)"/><stop offset="0.6" stop-color="rgb(170,170,170)"/><stop offset="1" stop-color="rgb(158,158,158)"/></linearGradient>
<rect x="169.80" y="513.30" width="18.40" height="6.8" fill="rgb(249,249,249)" filter="url(#blur2)"/>
<rect x="170.80" y="514.30" width="16.40" height="2.8" rx="0.80" fill="url(#g378)" filter="url(#blur)"/>
<linearGradient id="g381" x1="0" x2="1" y1="0" y2="0"><stop offset="0" stop-color="rgb(112,112,112)"/><stop offset="0.6" stop-color="rgb(76,76,76)"/><stop offset="1" stop-color="rgb(49,49,49)"/></linearGradient>
<rect x="170.80" y="539.40" width="16.40" height="8.0" fill="rgb(234,234,234)" filter="url(#blur2)"/>
<rect x="171.80" y="540.40" width="14.40" height="4.0" rx="1.14" fill="url(#g381)" filter="url(#blur)"/>
<linearGradient id="g384" x1="0" x2="1" y1="0" y2="0"><stop offset="0" stop-color="rgb(106,106,106)"/><stop offset="0.6" stop-color="rgb(68,68,68)"/><stop offset="1" stop-color="rgb(40,40,40)"/></linearGradient>
<rect x="187.20" y="489.25" width="14.60" height="7.5" fill="rgb(240,240,240)" filter="url(#blur2)"/>
<rect x="188.20" y="490.25" width="12.60" height="3.5" rx="1.00" fill="url(#g384)" filter="url(#blur)"/>
<linearGradient id="g387" x1="0" x2="1" y1="0" y2="0"><stop offset="0" stop-color="rgb(173,173,173)"/><stop offset="0.6" stop-color="rgb(153,153,153)"/><stop offset="1" stop-color="rgb(137,137,137)"/></linearGradient>
<rect x="185.30" y="513.30" width="18.40" height="6.8" fill="rgb(248,248,248)" filter="url(#blur2)"/>
<rect x="186.30" y="514.30" width="16.40" height="2.8" rx="0.80" fill="url(#g387)" filter="url(#blur)"/>
<linearGradient id="g390" x1="0" x2="1" y1="0" y2="0"><stop offset="0" stop-color="rgb(112,112,112)"/><stop offset="0.6" stop-color="rgb(76,76,76)"/><stop offset="1" stop-color="rgb(49,49,49)"/></linearGradient>
<rect x="186.30" y="539.40" width="16.40" height="8.0" fill="rgb(234,234,234)" filter="url(#blur2)"/>
<rect x="187.30" y="540.40" width="14.40" height="4.0" rx="1.14" fill="url(#g390)" filter="url(#blur)"/>
<linearGradient id="g393" x1="0" x2="1" y1="0" y2="0"><stop offset="0" stop-color="rgb(132,132,132)"/><stop offset="0.6" stop-color="rgb(102,102,102)"/><stop offset="1" stop-color="rgb(79,79,79)"/></linearGradient>
<rect x="203.00" y="488.75" width="15.10" height="7.5" fill="rgb(242,242,242)" filter="url(#blur2)"/>
<rect x="204.00" y="489.75" width="13.10" height="3.5" rx="1.00" fill="url(#g393)" filter="url(#blur)"/>
<linearGradient id="g396" x1="0" x2="1" y1="0" y2="0"><stop offset="0" stop-color="rgb(187,187,187)"/><stop offset="0.6" stop-color="rgb(170,170,170)"/><stop offset="1" stop-color="rgb(158,158,158)"/></linearGradient>
<rect x="201.10" y="513.30" width="18.90" height="6.8" fill="rgb(249,249,249)" filter="url(#blur2)"/>
<rect x="202.10" y="514.30" width="16.90" height="2.8" rx="0.80" fill="url(#g396)" filter="url(#blur)"/>
<linearGradient id="g399" x1="0" x2="1" y1="0" y2="0"><stop offset="0" stop-color="rgb(116,116,116)"/><stop offset="0.6" stop-color="rgb(81,81,81)"/><stop offset="1" stop-color="rgb(55,55,55)"/></linearGradient>
<rect x="202.10" y="539.40" width="16.90" height="8.0" fill="rgb(234,234,234)" filter="url(#blur2)"/>
<rect x="203.10" y="540.40" width="14.90" height="4.0" rx="1.14" fill="url(#g399)" filter="url(#blur)"/>
<linearGradient id="g402" x1="0" x2="1" y1="0" y2="0"><stop offset="0" stop-color="rgb(132,132,132)"/><stop offset="0.6" stop-color="rgb(102,102,102)"/><stop offset="1" stop-color="rgb(79,79,79)"/></linearGradient>
<rect x="218.70" y="488.75" width="15.10" height="7.5" fill="rgb(242,242,242)" filter="url(#blur2)"/>
<rect x="219.70" y="489.75" width="13.10" height="3.5" rx="1.00" fill="url(#g402)" filter="url(#blur)"/>
<linearGradient id="g405" x1="0" x2="1" y1="0" y2="0"><stop offset="0" stop-color="rgb(173,173,173)"/><stop offset="0.6" stop-color="rgb(153,153,153)"/><stop offset="1" stop-color="rgb(137,137,137)"/></linearGradient>
<rect x="216.80" y="513.30" width="18.90" height="6.8" fill="rgb(248,248,248)" filter="url(#blur2)"/>
<rect x="217.80" y="514.30" width="16.90" height="2.8" rx="0.80" fill="url(#g405)" filter="url(#blur)"/>
<linearGradient id="g408" x1="0" x2="1" y1="0" y2="0"><stop offset="0" stop-color="rgb(116,116,116)"/><stop offset="0.6" stop-color="rgb(81,81,81)"/><stop offset="1" stop-color="rgb(55,55,55)"/></linearGradient>
<rect x="217.80" y="539.40" width="16.90" height="8.0" fill="rgb(234,234,234)" filter="url(#blur2)"/>
<rect x="218.80" y="540.40" width="14.90" height="4.0" rx="1.14" fill="url(#g408)" filter="url(#blur)"/>
<linearGradient id="g411" x1="0" x2="1" y1="0" y2="0"><stop offset="0" stop-color="rgb(118,118,118)"/><stop offset="0.6" stop-color="rgb(84,84,84)"/><stop offset="1" stop-color="rgb(58,58,58)"/></linearGradient>
<rect x="234.70" y="488.75" width="15.10" height="7.5" fill="rgb(241,241,241)" filter="url(#blur2)"/>
<rect x="235.70" y="489.75" width="13.10" height="3.5" rx="1.00" fill="url(#g411)" filter="url(#blur)"/>
<linearGradient id="g414" x1="0" x2="1" y1="0" y2="0"><stop offset="0" stop-color="rgb(146,146,146)"/><stop offset="0.6" stop-color="rgb(119,119,119)"/><stop offset="1" stop-color="rgb(99,99,99)"/></linearGradient>
<rect x="232.80" y="513.30" width="18.90" height="6.8" fill="rgb(246,246,246)" filter="url(#blur2)"/>
<rect x="233.80" y="514.30" width="16.90" height="2.8" rx="0.80" fill="url(#g414)" filter="url(#blur)"/>
<linearGradient id="g417" x1="0" x2="1" y1="0" y2="0"><stop offset="0" stop-color="rgb(112,112,112)"/><stop offset="0.6" stop-color="rgb(76,76,76)"/><stop offset="1" stop-color="rgb(49,49,49)"/></linearGradient>
<rect x="233.80" y="539.40" width="16.90" height="8.0" fill="rgb(234,234,234)" filter="url(#blur2)"/>
<rect x="234.80" y="540.40" width="14.90" height="4.0" rx="1.14" fill="url(#g417)" filter="url(#blur)"/>
<linearGradient id="g420" x1="0" x2="1" y1="0" y2="0"><stop offset="0" stop-color="rgb(146,146,146)"/><stop offset="0.6" stop-color="rgb(119,119,119)"/><stop offset="1" stop-color="rgb(99,99,99)"/></linearGradient>
<rect x="251.70" y="489.25" width="13.10" height="7.5" fill="rgb(244,244,244)" filter="url(#blur2)"/>
<rect x="252.70" y="490.25" width="11.10" height="3.5" rx="1.00" fill="url(#g420)" filter="url(#blur)"/>
<linearGradient id="g423" x1="0" x2="1" y1="0" y2="0"><stop offset="0" stop-color="rgb(187,187,187)"/><stop offset="0.6" stop-color="rgb(170,170,170)"/><stop offset="1" stop-color="rgb(158,158,158)"/></linearGradient>
<rect x="249.80" y="513.30" width="16.90" height="6.8" fill="rgb(249,249,249)" filter="url(#blur2)"/>
<rect x="250.80" y="514.30" width="14.90" height="2.8" rx="0.80" fill="url(#g423)" filter="url(#blur)"/>
<linearGradient id="g426" x1="0" x2="1" y1="0" y2="0"><stop offset="0" stop-color="rgb(116,116,116)"/><stop offset="0.6" stop-color="rgb(81,81,81)"/><stop offset="1" stop-color="rgb(55,55,55)"/></linearGradient>
<rect x="250.80" y="539.40" width="14.90" height="8.0" fill="rgb(234,234,234)" filter="url(#blur2)"/>
<rect x="251.80" y="540.40" width="12.90" height="4.0" rx="1.14" fill="url(#g426)" filter="url(#blur)"/>
<linearGradient id="g429" x1="0" x2="1" y1="0" y2="0"><stop offset="0" stop-color="rgb(120,120,120)"/><stop offset="0.6" stop-color="rgb(86,86,86)"/><stop offset="1" stop-color="rgb(61,61,61)"/></linearGradient>
<rect x="266.20" y="489.25" width="14.40" height="7.5" fill="rgb(241,241,241)" filter="url(#blur2)"/>
<rect x="267.20" y="490.25" width="12.40" height="3.5" rx="1.00" fill="url(#g429)" filter="url(#blur)"/>
<linearGradient id="g432" x1="0" x2="1" y1="0" y2="0"><stop offset="0" stop-color="rgb(173,173,173)"/><stop offset="0.6" stop-color="rgb(153,153,153)"/><stop offset="1" stop-color="rgb(137,137,137)"/></linearGradient>
<rect x="264.30" y="513.30" width="18.20" height="6.8" fill="rgb(248,248,248)" filter="url(#blur2)"/>
<rect x="265.30" y="514.30" width="16.20" height="2.8" rx="0.80" fill="url(#g432)" filter="url(#blur)"/>
<linearGradient id="g435" x1="0" x2="1" y1="0" y2="0"><stop offset="0" stop-color="rgb(112,112,112)"/><stop offset="0.6" stop-color="rgb(76,76,76)"/><stop offset="1" stop-color="rgb(49,49,49)"/></linearGradient>
<rect x="265.30" y="539.40" width="16.20" height="8.0" fill="rgb(234,234,234)" filter="url(#blur2)"/>
<rect x="266.30" y="540.40" width="14.20" height="4.0" rx="1.14" fill="url(#g435)" filter="url(#blur)"/>
<linearGradient id="g438" x1="0" x2="1" y1="0" y2="0"><stop offset="0" stop-color="rgb(146,146,146)"/><stop offset="0.6" stop-color="rgb(119,119,119)"/><stop offset="1" stop-color="rgb(99,99,99)"/></linearGradient>
<rect x="281.70" y="489.25" width="13.90" height="7.5" fill="rgb(244,244,244)" filter="url(#blur2)"/>
<rect x="282.70" y="490.25" width="11.90" height="3.5" rx="1.00" fill="url(#g438)" filter="url(#blur)"/>
<linearGradient id="g441" x1="0" x2="1" y1="0" y2="0"><stop offset="0" stop-color="rgb(132,132,132)"/><stop offset="0.6" stop-color="rgb(102,102,102)"/><stop offset="1" stop-color="rgb(79,79,79)"/></linearGradient>
<rect x="279.80" y="513.30" width="17.70" height="6.8" fill="rgb(245,245,245)" filter="url(#blur2)"/>
<rect x="280.80" y="514.30" width="15.70" height="2.8" rx="0.80" fill="url(#g441)" filter="url(#blur)"/>
<linearGradient id="g444" x1="0" x2="1" y1="0" y2="0"><stop offset="0" stop-color="rgb(104,104,104)"/><stop offset="0.6" stop-color="rgb(66,66,66)"/><stop offset="1" stop-color="rgb(37,37,37)"/></linearGradient>
<rect x="280.80" y="539.40" width="15.70" height="8.0" fill="rgb(234,234,234)" filter="url(#blur2)"/>
<rect x="281.80" y="540.40" width="13.70" height="4.0" rx="1.14" fill="url(#g444)" filter="url(#blur)"/>
<linearGradient id="g447" x1="0" x2="1" y1="0" y2="0"><stop offset="0" stop-color="rgb(214,214,214)"/><stop offset="0.6" stop-color="rgb(204,204,204)"/><stop offset="1" stop-color="rgb(196,196,196)"/></linearGradient>
<rect x="297.50" y="489.25" width="13.30" height="7.5" fill="rgb(250,250,250)" filter="url(#blur2)"/>
<rect x="298.50" y="490.25" width="11.30" height="3.5" rx="1.00" fill="url(#g447)" filter="url(#blur)"/>
<linearGradient id="g450" x1="0" x2="1" y1="0" y2="0"><stop offset="0" stop-color="rgb(214,214,214)"/><stop offset="0.6" stop-color="rgb(204,204,204)"/><stop offset="1" stop-color="rgb(196,196,196)"/></linearGradient>
<rect x="295.60" y="513.30" width="17.10" height="6.8" fill="rgb(251,251,251)" filter="url(#blur2)"/>
<rect x="296.60" y="514.30" width="15.10" height="2.8" rx="0.80" fill="url(#g450)" filter="url(#blur)"/>
<linearGradient id="g453" x1="0" x2="1" y1="0" y2="0"><stop offset="0" stop-color="rgb(104,104,104)"/><stop offset="0.6" stop-color="rgb(66,66,66)"/><stop offset="1" stop-color="rgb(37,37,37)"/></linearGradient>
<rect x="296.60" y="539.40" width="15.10" height="8.0" fill="rgb(234,234,234)" filter="url(#blur2)"/>
<rect x="297.60" y="540.40" width="13.10" height="4.0" rx="1.14" fill="url(#g453)" filter="url(#blur)"/>
<linearGradient id="g456" x1="0" x2="1" y1="0" y2="0"><stop offset="0" stop-color="rgb(87,87,87)"/><stop offset="0.6" stop-color="rgb(45,45,45)"/><stop offset="1" stop-color="rgb(14,14,14)"/></linearGradient>
<rect x="311.70" y="489.25" width="14.10" height="7.5" fill="rgb(238,238,238)" filter="url(#blur2)"/>
<rect x="312.70" y="490.25" width="12.10" height="3.5" rx="1.00" fill="url(#g456)" filter="url(#blur)"/>
<linearGradient id="g459" x1="0" x2="1" y1="0" y2="0"><stop offset="0" stop-color="rgb(146,146,146)"/><stop offset="0.6" stop-color="rgb(119,119,119)"/><stop offset="1" stop-color="rgb(99,99,99)"/></linearGradient>
<rect x="309.80" y="513.30" width="17.90" height="6.8" fill="rgb(246,246,246)" filter="url(#blur2)"/>
<rect x="310.80" y="514.30" width="15.90" height="2.8" rx="0.80" fill="url(#g459)" filter="url(#blur)"/>
<linearGradient id="g462" x1="0" x2="1" y1="0" y2="0"><stop offset="0" stop-color="rgb(99,99,99)"/><stop offset="0.6" stop-color="rgb(61,61,61)"/><stop offset="1" stop-color="rgb(32,32,32)"/></linearGradient>
<rect x="310.80" y="539.40" width="15.90" height="8.0" fill="rgb(234,234,234)" filter="url(#blur2)"/>
<rect x="311.80" y="540.40" width="13.90" height="4.0" rx="1.14" fill="url(#g462)" filter="url(#blur)"/>
<linearGradient id="g465" x1="0" x2="1" y1="0" y2="0"><stop offset="0" stop-color="rgb(173,173,173)"/><stop offset="0.6" stop-color="rgb(153,153,153)"/><stop offset="1" stop-color="rgb(137,137,137)"/></linearGradient>
<rect x="328.20" y="489.25" width="13.60" height="7.5" fill="rgb(246,246,246)" filter="url(#blur2)"/>
<rect x="329.20" y="490.25" width="11.60" height="3.5" rx="1.00" fill="url(#g465)" filter="url(#blur)"/>
<linearGradient id="g468" x1="0" x2="1" y1="0" y2="0"><stop offset="0" stop-color="rgb(173,173,173)"/><stop offset="0.6" stop-color="rgb(153,153,153)"/><stop offset="1" stop-color="rgb(137,137,137)"/></linearGradient>
<rect x="326.30" y="513.30" width="17.40" height="6.8" fill="rgb(248,248,248)" filter="url(#blur2)"/>
<rect x="327.30" y="514.30" width="15.40" height="2.8" rx="0.80" fill="url(#g468)" filter="url(#blur)"/>
<linearGradient id="g471" x1="0" x2="1" y1="0" y2="0"><stop offset="0" stop-color="rgb(95,95,95)"/><stop offset="0.6" stop-color="rgb(56,56,56)"/><stop offset="1" stop-color="rgb(26,26,26)"/></linearGradient>
<rect x="327.30" y="539.40" width="15.40" height="8.0" fill="rgb(234,234,234)" filter="url(#blur2)"/>
<rect x="328.30" y="540.40" width="13.40" height="4.0" rx="1.14" fill="url(#g471)" filter="url(#blur)"/>
<linearGradient id="g474" x1="0" x2="1" y1="0" y2="0"><stop offset="0" stop-color="rgb(169,169,169)"/><stop offset="0.6" stop-color="rgb(147,147,147)"/><stop offset="1" stop-color="rgb(131,131,131)"/></linearGradient>
<rect x="342.50" y="489.25" width="14.30" height="7.5" fill="rgb(246,246,246)" filter="url(#blur2)"/>
<rect x="343.50" y="490.25" width="12.30" height="3.5" rx="1.00" fill="url(#g474)" filter="url(#blur)"/>
<linearGradient id="g477" x1="0" x2="1" y1="0" y2="0"><stop offset="0" stop-color="rgb(173,173,173)"/><stop offset="0.6" stop-color="rgb(153,153,153)"/><stop offset="1" stop-color="rgb(137,137,137)"/></linearGradient>
<rect x="340.60" y="513.30" width="18.10" height="6.8" fill="rgb(248,248,248)" filter="url(#blur2)"/>
<rect x="341.60" y="514.30" width="16.10" height="2.8" rx="0.80" fill="url(#g477)" filter="url(#blur)"/>
<linearGradient id="g480" x1="0" x2="1" y1="0" y2="0"><stop offset="0" stop-color="rgb(112,112,112)"/><stop offset="0.6" stop-color="rgb(76,76,76)"/><stop offset="1" stop-color="rgb(49,49,49)"/></linearGradient>
<rect x="341.60" y="539.40" width="16.10" height="8.0" fill="rgb(234,234,234)" filter="url(#blur2)"/>
<rect x="342.60" y="540.40" width="14.10" height="4.0" rx="1.14" fill="url(#g480)" filter="url(#blur)"/>
<linearGradient id="g483" x1="0" x2="1" y1="0" y2="0"><stop offset="0" stop-color="rgb(230,230,230)"/><stop offset="0.6" stop-color="rgb(224,224,224)"/><stop offset="1" stop-color="rgb(219,219,219)"/></linearGradient>
<rect x="358.20" y="488.75" width="14.40" height="7.5" fill="rgb(252,252,252)" filter="url(#blur2)"/>
<rect x="359.20" y="489.75" width="12.40" height="3.5" rx="1.00" fill="url(#g483)" filter="url(#blur)"/>
<linearGradient id="g486" x1="0" x2="1" y1="0" y2="0"><stop offset="0" stop-color="rgb(228,228,228)"/><stop offset="0.6" stop-color="rgb(221,221,221)"/><stop offset="1" stop-color="rgb(216,216,216)"/></linearGradient>
<rect x="356.30" y="513.30" width="18.20" height="6.8" fill="rgb(253,253,253)" filter="url(#blur2)"/>
<rect x="357.30" y="514.30" width="16.20" height="2.8" rx="0.80" fill="url(#g486)" filter="url(#blur)"/>
<linearGradient id="g489" x1="0" x2="1" y1="0" y2="0"><stop offset="0" stop-color="rgb(112,112,112)"/><stop offset="0.6" stop-color="rgb(76,76,76)"/><stop offset="1" stop-color="rgb(49,49,49)"/></linearGradient>
<rect x="357.30" y="539.40" width="16.20" height="8.0" fill="rgb(234,234,234)" filter="url(#blur2)"/>
<rect x="358.30" y="540.40" width="14.20" height="4.0" rx="1.14" fill="url(#g489)" filter="url(#blur)"/>
<linearGradient id="g492" x1="0" x2="1" y1="0" y2="0"><stop offset="0" stop-color="rgb(142,142,142)"/><stop offset="0.6" stop-color="rgb(114,114,114)"/><stop offset="1" stop-color="rgb(93,93,93)"/></linearGradient>
<rect x="373.20" y="487.75" width="14.40" height="7.5" fill="rgb(243,243,243)" filter="url(#blur2)"/>
<rect x="374.20" y="488.75" width="12.40" height="3.5" rx="1.00" fill="url(#g492)" filter="url(#blur)"/>
<linearGradient id="g495" x1="0" x2="1" y1="0" y2="0"><stop offset="0" stop-color="rgb(187,187,187)"/><stop offset="0.6" stop-color="rgb(170,170,170)"/><stop offset="1" stop-color="rgb(158,158,158)"/></linearGradient>
<rect x="371.30" y="513.30" width="18.20" height="6.8" fill="rgb(249,249,249)" filter="url(#blur2)"/>
<rect x="372.30" y="514.30" width="16.20" height="2.8" rx="0.80" fill="url(#g495)" filter="url(#blur)"/>
<linearGradient id="g498" x1="0" x2="1" y1="0" y2="0"><stop offset="0" stop-color="rgb(120,120,120)"/><stop offset="0.6" stop-color="rgb(86,86,86)"/><stop offset="1" stop-color="rgb(61,61,61)"/></linearGradient>
<rect x="372.30" y="539.40" width="16.20" height="8.0" fill="rgb(234,234,234)" filter="url(#blur2)"/>
<rect x="373.30" y="540.40" width="14.20" height="4.0" rx="1.14" fill="url(#g498)" filter="url(#blur)"/>
<linearGradient id="g501" x1="0" x2="1" y1="0" y2="0"><stop offset="0" stop-color="rgb(169,169,169)"/><stop offset="0.6" stop-color="rgb(147,147,147)"/><stop offset="1" stop-color="rgb(131,131,131)"/></linearGradient>
<rect x="388.70" y="486.95" width="13.90" height="7.5" fill="rgb(246,246,246)" filter="url(#blur2)"/>
<rect x="389.70" y="487.95" width="11.90" height="3.5" rx="1.00" fill="url(#g501)" filter="url(#blur)"/>
<linearGradient id="g504" x1="0" x2="1" y1="0" y2="0"><stop offset="0" stop-color="rgb(173,173,173)"/><stop offset="0.6" stop-color="rgb(153,153,153)"/><stop offset="1" stop-color="rgb(137,137,137)"/></linearGradient>
<rect x="386.80" y="513.30" width="17.70" height="6.8" fill="rgb(248,248,248)" filter="url(#blur2)"/>
<rect x="387.80" y="514.30" width="15.70" height="2.8" rx="0.80" fill="url(#g504)" filter="url(#blur)"/>
<linearGradient id="g507" x1="0" x2="1" y1="0" y2="0"><stop offset="0" stop-color="rgb(120,120,120)"/><stop offset="0.6" stop-color="rgb(86,86,86)"/><stop offset="1" stop-color="rgb(61,61,61)"/></linearGradient>
<rect x="387.80" y="539.40" width="15.70" height="8.0" fill="rgb(234,234,234)" filter="url(#blur2)"/>
<rect x="388.80" y="540.40" width="13.70" height="4.0" rx="1.14" fill="url(#g507)" filter="url(#blur)"/>
<line x1="170.30" y1="480.00" x2="170.30" y2="558.00" stroke="#111" stroke-width="1.1" stroke-dasharray="3,2"/>
<line x1="251.40" y1="480.00" x2="251.40" y2="558.00" stroke="#111" stroke-width="1.1" stroke-dasharray="3,2"/>
<line x1="326.40" y1="480.00" x2="326.40" y2="558.00" stroke="#111" stroke-width="1.1" stroke-dasharray="3,2"/>
<text x="424.30" y="493.90" font-size="10.3" text-anchor="start" font-weight="normal" fill="#111" style="color:#111" >pS780-Rb</text>
<text x="424.30" y="523.40" font-size="10.3" text-anchor="start" font-weight="normal" fill="#111" style="color:#111" >pS10-Histone H3</text>
<text x="424.30" y="549.30" font-size="10.3" text-anchor="start" font-weight="normal" fill="#111" style="color:#111" >GAPDH</text>
<text x="18.10" y="591.60" font-size="17.4" text-anchor="start" font-weight="bold" fill="#000" style="color:#000" >D</text>
<line x1="127.10" y1="591.70" x2="127.10" y2="705.30" stroke="#000" stroke-width="2.1" />
<line x1="125.80" y1="702.00" x2="450.70" y2="702.00" stroke="#000" stroke-width="2" />
<line x1="123.30" y1="702.00" x2="126.80" y2="702.00" stroke="#000" stroke-width="1.8" />
<text x="117.90" y="707.30" font-size="10.1" text-anchor="end" font-weight="normal" fill="#111" style="color:#111" >0</text>
<line x1="123.30" y1="683.77" x2="126.80" y2="683.77" stroke="#000" stroke-width="1.8" />
<text x="117.90" y="689.07" font-size="10.1" text-anchor="end" font-weight="normal" fill="#111" style="color:#111" >1,000</text>
<line x1="123.30" y1="665.54" x2="126.80" y2="665.54" stroke="#000" stroke-width="1.8" />
<text x="117.90" y="670.84" font-size="10.1" text-anchor="end" font-weight="normal" fill="#111" style="color:#111" >2,000</text>
<line x1="123.30" y1="647.31" x2="126.80" y2="647.31" stroke="#000" stroke-width="1.8" />
<text x="117.90" y="652.61" font-size="10.1" text-anchor="end" font-weight="normal" fill="#111" style="color:#111" >3,000</text>
<line x1="123.30" y1="629.08" x2="126.80" y2="629.08" stroke="#000" stroke-width="1.8" />
<text x="117.90" y="634.38" font-size="10.1" text-anchor="end" font-weight="normal" fill="#111" style="color:#111" >4,000</text>
<line x1="123.30" y1="610.85" x2="126.80" y2="610.85" stroke="#000" stroke-width="1.8" />
<text x="117.90" y="616.15" font-size="10.1" text-anchor="end" font-weight="normal" fill="#111" style="color:#111" >5,000</text>
<line x1="123.30" y1="592.62" x2="126.80" y2="592.62" stroke="#000" stroke-width="1.8" />
<text x="117.90" y="597.92" font-size="10.1" text-anchor="end" font-weight="normal" fill="#111" style="color:#111" >6,000</text>
<line x1="126.80" y1="702.00" x2="126.80" y2="705.00" stroke="#000" stroke-width="1.8" />
<text x="127.10" y="718.00" font-size="9.6" text-anchor="middle" font-weight="normal" fill="#111" style="color:#111" >0</text>
<line x1="191.38" y1="702.00" x2="191.38" y2="705.00" stroke="#000" stroke-width="1.8" />
<text x="191.68" y="718.00" font-size="9.6" text-anchor="middle" font-weight="normal" fill="#111" style="color:#111" >10</text>
<line x1="255.96" y1="702.00" x2="255.96" y2="705.00" stroke="#000" stroke-width="1.8" />
<text x="256.26" y="718.00" font-size="9.6" text-anchor="middle" font-weight="normal" fill="#111" style="color:#111" >20</text>
<line x1="320.54" y1="702.00" x2="320.54" y2="705.00" stroke="#000" stroke-width="1.8" />
<text x="320.84" y="718.00" font-size="9.6" text-anchor="middle" font-weight="normal" fill="#111" style="color:#111" >30</text>
<line x1="385.12" y1="702.00" x2="385.12" y2="705.00" stroke="#000" stroke-width="1.8" />
<text x="385.42" y="718.00" font-size="9.6" text-anchor="middle" font-weight="normal" fill="#111" style="color:#111" >40</text>
<line x1="449.70" y1="702.00" x2="449.70" y2="705.00" stroke="#000" stroke-width="1.8" />
<text x="450.00" y="718.00" font-size="9.6" text-anchor="middle" font-weight="normal" fill="#111" style="color:#111" >50</text>
<text x="284.20" y="735.00" font-size="8.4" text-anchor="middle" font-weight="bold" fill="#000" style="color:#000" >Day</text>
<line x1="187.70" y1="723.60" x2="309.20" y2="723.60" stroke="#991d2f" stroke-width="2.2" />
<text x="318.80" y="727.50" font-size="9.6" text-anchor="start" font-weight="bold" fill="#991d2f" style="color:#991d2f" >Rx</text>
<text transform="translate(83.40,698.90) rotate(-90)" font-size="10.6" font-weight="bold" fill="#111" style="color:#111">Tumor volume, mm<tspan font-size="7.21" dy="-4.03">3</tspan></text>
<line x1="136.00" y1="597.50" x2="156.50" y2="597.50" stroke="#000" stroke-width="2" />
<path d="M144.30,597.50 L146.50,595.30 L148.70,597.50 L146.50,599.70Z" fill="#000" stroke="#000" stroke-width="1"/>
<line x1="136.00" y1="609.20" x2="156.50" y2="609.20" stroke="#2273b8" stroke-width="2" />
<circle cx="146.50" cy="609.20" r="2.20" fill="#fff" stroke="#2273b8" stroke-width="1.3"/>
<line x1="136.00" y1="620.60" x2="156.50" y2="620.60" stroke="#d9263a" stroke-width="2" />
<rect x="144.30" y="618.40" width="4.40" height="4.40" fill="#d9263a" stroke="#d9263a" stroke-width="1.2"/>
<line x1="136.00" y1="634.80" x2="156.50" y2="634.80" stroke="#f3c21d" stroke-width="2" />
<path d="M144.30,636.56 L146.50,632.60 L148.70,636.56Z" fill="#f3c21d" stroke="#f3c21d" stroke-width="1.1"/>
<text x="159.50" y="599.10" font-size="8.4" text-anchor="start" font-weight="normal" fill="#111" style="color:#111" >1% HEC in 25 mmol/L PB pH 2, 0.2 mL, PO, QD × 21</text>
<text x="159.50" y="611.10" font-size="8.45" text-anchor="start" font-weight="normal" fill="#111" style="color:#111" >Vemurafenib, 10 mg/kg, PO, BID × 21</text>
<text x="159.50" y="623.70" font-size="8.4" text-anchor="start" font-weight="normal" fill="#111" style="color:#111" >LY2835219, 45 mg/kg, PO, QD × 21</text>
<text x="159.50" y="637.20" font-size="8.5" text-anchor="start" font-weight="normal" fill="#111" style="color:#111" >LY2835219, 45 mg/kg/ Vemurafenib, 10 mg/kg,</text>
<line x1="281.79" y1="678.50" x2="281.79" y2="686.20" stroke="#000" stroke-width="2.1" />
<rect x="280.24" y="677.70" width="3.1" height="1.6" rx="0.5" fill="#fff" stroke="#000" stroke-width="1.1"/>
<rect x="280.24" y="685.40" width="3.1" height="1.6" rx="0.5" fill="#fff" stroke="#000" stroke-width="1.1"/>
<line x1="307.62" y1="673.70" x2="307.62" y2="681.90" stroke="#000" stroke-width="2.1" />
<rect x="306.07" y="672.90" width="3.1" height="1.6" rx="0.5" fill="#fff" stroke="#000" stroke-width="1.1"/>
<rect x="306.07" y="681.10" width="3.1" height="1.6" rx="0.5" fill="#fff" stroke="#000" stroke-width="1.1"/>
<line x1="327.00" y1="659.20" x2="327.00" y2="670.80" stroke="#000" stroke-width="2.1" />
<rect x="325.45" y="658.40" width="3.1" height="1.6" rx="0.5" fill="#fff" stroke="#000" stroke-width="1.1"/>
<rect x="325.45" y="670.00" width="3.1" height="1.6" rx="0.5" fill="#fff" stroke="#000" stroke-width="1.1"/>
<line x1="352.83" y1="651.50" x2="352.83" y2="664.40" stroke="#000" stroke-width="2.1" />
<rect x="351.28" y="650.70" width="3.1" height="1.6" rx="0.5" fill="#fff" stroke="#000" stroke-width="1.1"/>
<rect x="351.28" y="663.60" width="3.1" height="1.6" rx="0.5" fill="#fff" stroke="#000" stroke-width="1.1"/>
<line x1="372.20" y1="635.00" x2="372.20" y2="652.90" stroke="#000" stroke-width="2.1" />
<rect x="370.65" y="634.20" width="3.1" height="1.6" rx="0.5" fill="#fff" stroke="#000" stroke-width="1.1"/>
<rect x="370.65" y="652.10" width="3.1" height="1.6" rx="0.5" fill="#fff" stroke="#000" stroke-width="1.1"/>
<line x1="398.04" y1="623.00" x2="398.04" y2="646.50" stroke="#000" stroke-width="2.1" />
<rect x="396.49" y="622.20" width="3.1" height="1.6" rx="0.5" fill="#fff" stroke="#000" stroke-width="1.1"/>
<rect x="396.49" y="645.70" width="3.1" height="1.6" rx="0.5" fill="#fff" stroke="#000" stroke-width="1.1"/>
<line x1="417.41" y1="608.70" x2="417.41" y2="638.10" stroke="#000" stroke-width="2.1" />
<rect x="415.86" y="607.90" width="3.1" height="1.6" rx="0.5" fill="#fff" stroke="#000" stroke-width="1.1"/>
<rect x="415.86" y="637.30" width="3.1" height="1.6" rx="0.5" fill="#fff" stroke="#000" stroke-width="1.1"/>
<polyline points="172.01,697.00 191.38,696.00 217.21,695.10 236.59,695.10 262.42,689.00 281.79,682.30 307.62,677.50 327.00,664.00 352.83,657.70 372.20,644.20 398.04,634.60 417.41,623.50" fill="none" stroke="#000" stroke-width="2.2" stroke-linejoin="round"/>
<path d="M169.81,697.00 L172.01,694.80 L174.21,697.00 L172.01,699.20Z" fill="#000" stroke="#000" stroke-width="1"/>
<path d="M189.18,696.00 L191.38,693.80 L193.58,696.00 L191.38,698.20Z" fill="#000" stroke="#000" stroke-width="1"/>
<path d="M215.01,695.10 L217.21,692.90 L219.41,695.10 L217.21,697.30Z" fill="#000" stroke="#000" stroke-width="1"/>
<path d="M234.39,695.10 L236.59,692.90 L238.79,695.10 L236.59,697.30Z" fill="#000" stroke="#000" stroke-width="1"/>
<path d="M260.22,689.00 L262.42,686.80 L264.62,689.00 L262.42,691.20Z" fill="#000" stroke="#000" stroke-width="1"/>
<path d="M279.59,682.30 L281.79,680.10 L283.99,682.30 L281.79,684.50Z" fill="#000" stroke="#000" stroke-width="1"/>
<path d="M305.42,677.50 L307.62,675.30 L309.82,677.50 L307.62,679.70Z" fill="#000" stroke="#000" stroke-width="1"/>
<path d="M324.80,664.00 L327.00,661.80 L329.20,664.00 L327.00,666.20Z" fill="#000" stroke="#000" stroke-width="1"/>
<path d="M350.63,657.70 L352.83,655.50 L355.03,657.70 L352.83,659.90Z" fill="#000" stroke="#000" stroke-width="1"/>
<path d="M370.00,644.20 L372.20,642.00 L374.40,644.20 L372.20,646.40Z" fill="#000" stroke="#000" stroke-width="1"/>
<path d="M395.84,634.60 L398.04,632.40 L400.24,634.60 L398.04,636.80Z" fill="#000" stroke="#000" stroke-width="1"/>
<path d="M415.21,623.50 L417.41,621.30 L419.61,623.50 L417.41,625.70Z" fill="#000" stroke="#000" stroke-width="1"/>
<line x1="327.00" y1="679.40" x2="327.00" y2="684.60" stroke="#d9263a" stroke-width="2.1" />
<rect x="325.45" y="678.60" width="3.1" height="1.6" rx="0.5" fill="#fff" stroke="#d9263a" stroke-width="1.1"/>
<rect x="325.45" y="683.80" width="3.1" height="1.6" rx="0.5" fill="#fff" stroke="#d9263a" stroke-width="1.1"/>
<line x1="352.83" y1="668.30" x2="352.83" y2="676.00" stroke="#d9263a" stroke-width="2.1" />
<rect x="351.28" y="667.50" width="3.1" height="1.6" rx="0.5" fill="#fff" stroke="#d9263a" stroke-width="1.1"/>
<rect x="351.28" y="675.20" width="3.1" height="1.6" rx="0.5" fill="#fff" stroke="#d9263a" stroke-width="1.1"/>
<line x1="372.20" y1="658.70" x2="372.20" y2="668.30" stroke="#d9263a" stroke-width="2.1" />
<rect x="370.65" y="657.90" width="3.1" height="1.6" rx="0.5" fill="#fff" stroke="#d9263a" stroke-width="1.1"/>
<rect x="370.65" y="667.50" width="3.1" height="1.6" rx="0.5" fill="#fff" stroke="#d9263a" stroke-width="1.1"/>
<line x1="398.04" y1="649.00" x2="398.04" y2="660.00" stroke="#d9263a" stroke-width="2.1" />
<rect x="396.49" y="648.20" width="3.1" height="1.6" rx="0.5" fill="#fff" stroke="#d9263a" stroke-width="1.1"/>
<rect x="396.49" y="659.20" width="3.1" height="1.6" rx="0.5" fill="#fff" stroke="#d9263a" stroke-width="1.1"/>
<line x1="417.41" y1="628.80" x2="417.41" y2="640.40" stroke="#d9263a" stroke-width="2.1" />
<rect x="415.86" y="628.00" width="3.1" height="1.6" rx="0.5" fill="#fff" stroke="#d9263a" stroke-width="1.1"/>
<rect x="415.86" y="639.60" width="3.1" height="1.6" rx="0.5" fill="#fff" stroke="#d9263a" stroke-width="1.1"/>
<polyline points="172.01,698.30 191.38,698.00 217.21,697.80 236.59,697.50 262.42,696.20 281.79,694.20 307.62,691.00 327.00,681.90 352.83,672.10 372.20,662.50 398.04,652.90 417.41,631.70" fill="none" stroke="#d9263a" stroke-width="2.2" stroke-linejoin="round"/>
<rect x="170.01" y="696.30" width="4.00" height="4.00" fill="#f6c8cc" stroke="#d9263a" stroke-width="1.2"/>
<rect x="189.38" y="696.00" width="4.00" height="4.00" fill="#f6c8cc" stroke="#d9263a" stroke-width="1.2"/>
<rect x="215.21" y="695.80" width="4.00" height="4.00" fill="#f6c8cc" stroke="#d9263a" stroke-width="1.2"/>
<rect x="234.59" y="695.50" width="4.00" height="4.00" fill="#f6c8cc" stroke="#d9263a" stroke-width="1.2"/>
<rect x="260.42" y="694.20" width="4.00" height="4.00" fill="#f6c8cc" stroke="#d9263a" stroke-width="1.2"/>
<rect x="279.79" y="692.20" width="4.00" height="4.00" fill="#f6c8cc" stroke="#d9263a" stroke-width="1.2"/>
<rect x="305.62" y="689.00" width="4.00" height="4.00" fill="#f6c8cc" stroke="#d9263a" stroke-width="1.2"/>
<rect x="325.00" y="679.90" width="4.00" height="4.00" fill="#f6c8cc" stroke="#d9263a" stroke-width="1.2"/>
<rect x="350.83" y="670.10" width="4.00" height="4.00" fill="#f6c8cc" stroke="#d9263a" stroke-width="1.2"/>
<rect x="370.20" y="660.50" width="4.00" height="4.00" fill="#f6c8cc" stroke="#d9263a" stroke-width="1.2"/>
<rect x="396.04" y="650.90" width="4.00" height="4.00" fill="#f6c8cc" stroke="#d9263a" stroke-width="1.2"/>
<rect x="415.41" y="629.70" width="4.00" height="4.00" fill="#f6c8cc" stroke="#d9263a" stroke-width="1.2"/>
<line x1="352.83" y1="686.20" x2="352.83" y2="690.80" stroke="#2273b8" stroke-width="2.1" />
<rect x="351.28" y="685.40" width="3.1" height="1.6" rx="0.5" fill="#fff" stroke="#2273b8" stroke-width="1.1"/>
<rect x="351.28" y="690.00" width="3.1" height="1.6" rx="0.5" fill="#fff" stroke="#2273b8" stroke-width="1.1"/>
<line x1="372.20" y1="682.30" x2="372.20" y2="687.50" stroke="#2273b8" stroke-width="2.1" />
<rect x="370.65" y="681.50" width="3.1" height="1.6" rx="0.5" fill="#fff" stroke="#2273b8" stroke-width="1.1"/>
<rect x="370.65" y="686.70" width="3.1" height="1.6" rx="0.5" fill="#fff" stroke="#2273b8" stroke-width="1.1"/>
<line x1="398.04" y1="673.50" x2="398.04" y2="683.00" stroke="#2273b8" stroke-width="2.1" />
<rect x="396.49" y="672.70" width="3.1" height="1.6" rx="0.5" fill="#fff" stroke="#2273b8" stroke-width="1.1"/>
<rect x="396.49" y="682.20" width="3.1" height="1.6" rx="0.5" fill="#fff" stroke="#2273b8" stroke-width="1.1"/>
<line x1="417.41" y1="655.80" x2="417.41" y2="671.20" stroke="#2273b8" stroke-width="2.1" />
<rect x="415.86" y="655.00" width="3.1" height="1.6" rx="0.5" fill="#fff" stroke="#2273b8" stroke-width="1.1"/>
<rect x="415.86" y="670.40" width="3.1" height="1.6" rx="0.5" fill="#fff" stroke="#2273b8" stroke-width="1.1"/>
<polyline points="172.01,698.60 191.38,698.80 217.21,698.80 236.59,698.80 262.42,698.60 281.79,698.30 307.62,697.30 327.00,694.40 352.83,688.50 372.20,684.60 398.04,677.90 417.41,663.50" fill="none" stroke="#2273b8" stroke-width="2.2" stroke-linejoin="round"/>
<circle cx="172.01" cy="698.60" r="2.00" fill="#fff" stroke="#2273b8" stroke-width="1.3"/>
<circle cx="191.38" cy="698.80" r="2.00" fill="#fff" stroke="#2273b8" stroke-width="1.3"/>
<circle cx="217.21" cy="698.80" r="2.00" fill="#fff" stroke="#2273b8" stroke-width="1.3"/>
<circle cx="236.59" cy="698.80" r="2.00" fill="#fff" stroke="#2273b8" stroke-width="1.3"/>
<circle cx="262.42" cy="698.60" r="2.00" fill="#fff" stroke="#2273b8" stroke-width="1.3"/>
<circle cx="281.79" cy="698.30" r="2.00" fill="#fff" stroke="#2273b8" stroke-width="1.3"/>
<circle cx="307.62" cy="697.30" r="2.00" fill="#fff" stroke="#2273b8" stroke-width="1.3"/>
<circle cx="327.00" cy="694.40" r="2.00" fill="#fff" stroke="#2273b8" stroke-width="1.3"/>
<circle cx="352.83" cy="688.50" r="2.00" fill="#fff" stroke="#2273b8" stroke-width="1.3"/>
<circle cx="372.20" cy="684.60" r="2.00" fill="#fff" stroke="#2273b8" stroke-width="1.3"/>
<circle cx="398.04" cy="677.90" r="2.00" fill="#fff" stroke="#2273b8" stroke-width="1.3"/>
<circle cx="417.41" cy="663.50" r="2.00" fill="#fff" stroke="#2273b8" stroke-width="1.3"/>
<line x1="417.41" y1="677.90" x2="417.41" y2="683.70" stroke="#f3c21d" stroke-width="2.1" />
<rect x="415.86" y="677.10" width="3.1" height="1.6" rx="0.5" fill="#fff" stroke="#f3c21d" stroke-width="1.1"/>
<rect x="415.86" y="682.90" width="3.1" height="1.6" rx="0.5" fill="#fff" stroke="#f3c21d" stroke-width="1.1"/>
<polyline points="172.01,698.60 191.38,698.80 217.21,699.10 236.59,699.20 262.42,699.50 281.79,699.50 307.62,699.30 327.00,698.70 352.83,697.60 372.20,695.90 398.04,690.40 417.41,681.70" fill="none" stroke="#f3c21d" stroke-width="2.2" stroke-linejoin="round"/>
<path d="M169.81,700.36 L172.01,696.40 L174.21,700.36Z" fill="#f3c21d" stroke="#f3c21d" stroke-width="1.1"/>
<path d="M189.18,700.56 L191.38,696.60 L193.58,700.56Z" fill="#f3c21d" stroke="#f3c21d" stroke-width="1.1"/>
<path d="M215.01,700.86 L217.21,696.90 L219.41,700.86Z" fill="#f3c21d" stroke="#f3c21d" stroke-width="1.1"/>
<path d="M234.39,700.96 L236.59,697.00 L238.79,700.96Z" fill="#f3c21d" stroke="#f3c21d" stroke-width="1.1"/>
<path d="M260.22,701.26 L262.42,697.30 L264.62,701.26Z" fill="#f3c21d" stroke="#f3c21d" stroke-width="1.1"/>
<path d="M279.59,701.26 L281.79,697.30 L283.99,701.26Z" fill="#f3c21d" stroke="#f3c21d" stroke-width="1.1"/>
<path d="M305.42,701.06 L307.62,697.10 L309.82,701.06Z" fill="#f3c21d" stroke="#f3c21d" stroke-width="1.1"/>
<path d="M324.80,700.46 L327.00,696.50 L329.20,700.46Z" fill="#f3c21d" stroke="#f3c21d" stroke-width="1.1"/>
<path d="M350.63,699.36 L352.83,695.40 L355.03,699.36Z" fill="#f3c21d" stroke="#f3c21d" stroke-width="1.1"/>
<path d="M370.00,697.66 L372.20,693.70 L374.40,697.66Z" fill="#f3c21d" stroke="#f3c21d" stroke-width="1.1"/>
<path d="M395.84,692.16 L398.04,688.20 L400.24,692.16Z" fill="#f3c21d" stroke="#f3c21d" stroke-width="1.1"/>
<path d="M415.21,683.46 L417.41,679.50 L419.61,683.46Z" fill="#f3c21d" stroke="#f3c21d" stroke-width="1.1"/>
<g fill="#6e6e6e"><rect x="0" y="0" width="520" height="1.7"/><rect x="0" y="0" width="1.7" height="756"/><rect x="518" y="0" width="2" height="756"/><rect x="0" y="753.7" width="520" height="2.3"/></g>
</svg>
</body></html>
